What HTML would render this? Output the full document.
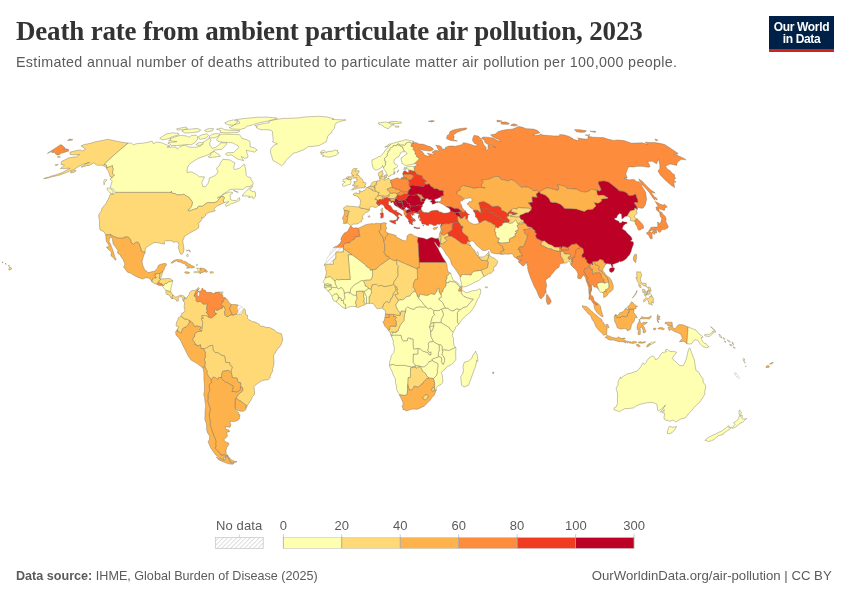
<!DOCTYPE html>
<html><head><meta charset="utf-8"><title>Death rate from ambient particulate air pollution, 2023</title>
<style>
html,body{margin:0;padding:0;background:#fff;}
body{width:850px;height:600px;overflow:hidden;position:relative;font-family:"Liberation Sans",sans-serif;}
#title{position:absolute;left:16px;top:15px;font-family:"Liberation Serif",serif;font-weight:bold;font-size:27px;color:#333;white-space:nowrap;line-height:32px;letter-spacing:-0.18px;}
#sub{position:absolute;left:16px;top:53px;font-size:14.3px;letter-spacing:0.335px;color:#5b5b5b;white-space:nowrap;line-height:18px;}
#logo{position:absolute;left:769px;top:16px;width:65px;height:36px;background:#002147;border-bottom:0;color:#fff;font-weight:bold;font-size:12px;line-height:12px;text-align:center;box-sizing:border-box;padding-top:5px;letter-spacing:-0.35px}
#logo:after{content:"";position:absolute;left:0;right:0;bottom:0;height:3px;background:#ce261e;}
#src{position:absolute;left:16px;top:568.2px;font-size:12.6px;color:#5b5b5b;white-space:nowrap;line-height:16px;}
#src b{font-weight:bold}
#lic{position:absolute;right:18.3px;top:568.2px;font-size:13.2px;color:#5b5b5b;white-space:nowrap;line-height:16px;}
svg{position:absolute;left:0;top:0}
svg text{font-family:"Liberation Sans",sans-serif;font-size:13px;fill:#5b5b5b}
</style></head><body>
<div id="title">Death rate from ambient particulate air pollution, 2023</div>
<div id="sub">Estimated annual number of deaths attributed to particulate matter air pollution per 100,000 people.</div>
<div id="logo">Our World<br>in Data</div>
<div id="src"><b>Data source:</b> IHME, Global Burden of Disease (2025)</div>
<div id="lic">OurWorldinData.org/air-pollution | CC BY</div>
<svg width="850" height="600" viewBox="0 0 850 600">
<defs><pattern id="hatch" width="3.2" height="3.2" patternUnits="userSpaceOnUse" patternTransform="rotate(45)"><rect width="3.2" height="3.2" fill="#fff"/><rect width="0.9" height="3.2" fill="#dadada"/></pattern></defs>
<g stroke="#6e6a55" stroke-width="0.4" stroke-linejoin="round">
<path fill="#ffffb2" d="M390.9,335.4L390.9,335.0L391.5,335.0L393.0,332.1L396.0,332.7L396.0,331.2L397.8,331.2L399.0,328.2L400.2,325.2L402.0,322.9L403.9,320.5L404.1,317.4L404.6,314.3L405.8,310.9L405.6,308.8L407.7,306.7L410.3,308.5L414.4,309.3L415.6,307.5L419.0,306.7L421.1,306.9L423.6,306.9L426.0,306.8L428.3,308.8L430.8,308.0L433.9,310.9L433.7,313.7L435.0,314.4L432.5,316.9L431.9,318.7L431.1,321.3L431.1,323.7L430.3,324.3L429.7,327.2L430.2,328.6L430.6,331.6L431.0,336.5L432.2,338.9L433.5,341.4L429.3,342.2L428.1,344.0L428.6,345.6L428.4,347.9L427.9,350.8L429.2,352.4L431.1,351.9L431.0,355.0L429.2,355.0L427.9,352.9L425.1,351.9L422.4,351.1L420.8,349.3L417.9,348.5L413.7,349.3L413.0,345.1L413.0,342.1L413.0,339.1L410.2,339.1L410.0,338.0L407.7,338.3L407.3,340.8L403.2,341.2L401.8,339.1L401.0,335.4L397.3,335.3L393.7,335.3L391.2,335.9Z"/>
<path fill="#fd8d3c" d="M359.2,233.1L360.2,236.2L356.2,236.9L354.8,237.3L354.7,239.2L352.0,240.3L350.0,242.7L345.9,243.2L343.5,245.0L343.5,247.7L340.1,247.7L336.8,247.7L333.4,247.7L334.1,247.0L337.2,246.1L338.1,244.9L340.2,243.2L341.5,240.6L340.9,239.9L341.2,237.7L342.5,235.6L344.2,233.1L346.2,232.2L347.8,231.1L349.4,228.1L350.0,226.5L351.3,226.2L353.0,228.1L354.3,227.9L356.4,227.8L358.0,228.3L358.9,229.4Z"/>
<path fill="url(#hatch)" stroke="#c0c0c0" d="M343.4,248.7L343.4,252.1L339.7,252.1L335.9,252.1L335.8,255.4L335.8,258.7L333.3,260.4L333.4,264.3L328.9,264.3L324.5,264.3L325.8,261.8L326.9,258.1L329.1,255.5L329.5,254.2L330.3,251.7L332.4,250.3L332.9,249.1L333.4,247.7L336.8,247.7L340.1,247.7L343.5,247.7Z"/>
<path fill="#feb24c" d="M380.8,226.8L380.8,229.4L379.3,230.9L379.2,231.7L381.0,235.1L382.7,236.2L383.8,240.9L384.6,244.3L384.7,246.9L384.9,250.8L383.8,251.6L385.2,253.9L385.8,255.7L388.7,256.5L389.8,258.6L386.4,260.9L383.1,263.2L379.8,265.5L377.9,267.4L376.0,269.2L372.4,270.0L370.3,270.4L369.8,268.5L366.9,267.0L365.4,264.9L362.0,262.3L358.7,259.8L355.3,257.2L352.0,254.7L349.1,252.7L346.3,250.7L343.4,248.7L343.5,247.7L343.5,245.0L345.9,243.2L350.0,242.7L352.0,240.3L354.7,239.2L354.8,237.3L356.2,236.9L360.2,236.2L359.2,233.1L358.9,229.4L358.0,228.3L361.4,226.8L363.0,226.0L365.6,224.7L369.4,223.9L372.5,223.6L373.8,224.0L376.4,223.2L379.5,223.6L381.4,223.5L380.9,224.9Z"/>
<path fill="#feb24c" d="M385.4,237.2L385.5,239.3L383.8,240.9L382.7,236.2L381.0,235.1L379.2,231.7L379.3,230.9L380.8,229.4L380.8,226.8L380.9,224.9L381.4,223.5L384.0,222.6L386.6,223.2L385.7,224.9L385.9,226.5L386.9,228.1L386.2,229.4L384.9,231.5L386.9,232.0L388.1,233.4L388.0,234.8Z"/>
<path fill="#feb24c" d="M418.3,243.7L418.6,248.4L418.8,253.1L419.1,257.8L419.3,262.5L419.4,265.1L419.5,267.8L417.2,267.8L417.2,269.1L413.1,267.2L409.0,265.4L404.8,263.6L400.7,261.8L396.6,259.9L394.8,261.0L392.3,259.8L389.8,258.6L388.7,256.5L385.8,255.7L385.2,253.9L383.8,251.6L384.9,250.8L384.7,246.9L384.6,244.3L383.8,240.9L385.5,239.3L385.4,237.2L388.0,234.8L388.1,233.4L391.7,234.1L396.0,235.4L396.7,237.5L399.4,238.5L402.6,240.3L405.3,240.9L407.0,239.3L406.9,236.2L408.9,234.3L410.4,233.9L412.5,234.5L413.8,235.9L415.6,236.2L418.2,237.3L417.5,241.1Z"/>
<path fill="#bd0026" d="M418.3,243.7L417.5,241.1L418.2,237.3L420.5,237.7L422.9,238.1L426.9,239.4L428.8,238.5L431.1,237.5L432.9,237.7L434.0,238.2L436.1,238.8L437.4,238.6L438.3,238.2L440.2,242.9L439.9,244.5L439.6,246.9L439.2,247.6L437.6,246.1L436.6,244.5L435.3,242.7L434.9,241.8L434.5,242.7L436.5,245.9L438.4,249.0L438.7,250.1L439.6,251.8L441.1,254.6L442.7,257.6L444.4,260.1L446.1,262.5L441.6,262.5L437.2,262.5L432.7,262.5L428.2,262.5L423.7,262.5L419.3,262.5L419.1,257.8L418.8,253.1L418.6,248.4Z"/>
<path fill="#feb24c" d="M446.9,276.4L447.2,277.9L446.0,280.6L446.4,282.6L446.2,284.5L445.5,286.8L443.3,289.2L443.0,291.5L441.5,292.3L441.1,295.2L439.0,291.8L438.7,288.1L437.0,289.4L437.1,291.0L434.7,294.4L433.6,294.5L430.5,293.6L429.4,294.7L427.1,295.6L423.7,295.1L420.0,294.1L419.2,297.1L417.2,296.5L416.8,293.9L415.3,291.5L414.4,288.7L412.7,286.8L413.6,285.3L413.1,284.0L415.1,279.5L417.6,279.0L417.4,274.0L417.2,269.1L417.2,267.8L419.5,267.8L419.4,265.1L419.3,262.5L423.7,262.5L428.2,262.5L432.7,262.5L437.2,262.5L441.6,262.5L446.1,262.5L447.0,265.1L447.3,268.8L447.6,270.1L448.5,272.2L450.6,273.0L450.1,273.2Z"/>
<path fill="#ffffb2" d="M456.3,283.2L454.5,282.1L451.9,281.7L449.4,281.1L448.8,282.9L446.4,282.6L446.0,280.6L447.2,277.9L446.9,276.4L450.1,273.2L450.6,273.0L451.4,275.6L452.8,279.3L453.5,280.6L454.9,281.1L457.0,282.1L458.9,284.7L460.7,286.0L461.6,286.8L459.9,287.3L458.1,285.3Z"/>
<path fill="#feb24c" d="M458.7,291.3L458.6,290.0L459.9,287.3L461.6,286.8L462.1,288.8L460.4,289.8L461.8,289.7L462.0,290.1L461.4,291.3Z"/>
<path fill="#ffffb2" d="M457.3,312.7L459.4,309.7L461.7,308.8L464.2,307.1L466.5,306.9L468.7,304.3L471.0,301.7L473.2,299.1L470.9,299.1L467.4,297.8L463.9,296.5L463.0,295.6L461.1,293.1L461.4,291.3L462.0,290.1L462.6,290.4L466.1,292.7L469.5,291.9L471.8,290.9L474.5,290.5L475.7,290.5L478.6,289.4L479.1,288.8L480.4,289.1L480.8,292.7L479.7,295.2L479.6,296.5L477.5,299.2L476.3,302.2L474.6,306.0L472.3,309.6L469.6,312.9L467.4,314.6L466.2,315.6L464.4,317.1L462.7,319.0L461.0,320.9L458.7,324.3L457.4,322.2L457.4,317.5Z"/>
<path fill="#ffffb2" d="M449.4,281.1L451.9,281.7L454.5,282.1L456.3,283.2L458.1,285.3L459.9,287.3L458.6,290.0L458.7,291.3L461.4,291.3L461.1,293.1L463.0,295.6L463.9,296.5L467.4,297.8L470.9,299.1L473.2,299.1L471.0,301.7L468.7,304.3L466.5,306.9L464.2,307.1L461.7,308.8L459.4,309.7L456.8,308.9L454.6,309.9L453.9,311.0L450.6,310.6L447.8,308.4L445.8,308.4L445.5,308.0L444.1,305.9L442.7,302.8L441.0,300.9L438.7,299.6L439.1,298.1L441.2,297.5L441.1,295.2L441.5,292.3L443.0,291.5L443.3,289.2L445.5,286.8L446.2,284.5L446.4,282.6L448.8,282.9Z"/>
<path fill="#ffffb2" d="M449.5,327.8L446.7,326.1L443.9,324.4L441.0,322.6L441.0,319.7L441.2,319.2L442.4,317.1L443.5,315.0L442.3,310.9L441.2,309.0L445.5,308.0L445.8,308.4L447.8,308.4L450.6,310.6L453.9,311.0L454.6,309.9L456.8,308.9L459.4,309.7L457.3,312.7L457.4,317.5L457.4,322.2L458.7,324.3L457.1,326.0L455.5,327.1L455.4,328.4L454.3,330.6L453.1,332.2L449.7,329.1Z"/>
<path fill="#ffffb2" d="M431.1,323.7L431.1,321.3L431.9,318.7L432.5,316.9L435.0,314.4L433.7,313.7L433.9,310.9L434.7,310.1L437.0,310.7L440.0,310.2L441.2,309.0L442.3,310.9L443.5,315.0L442.4,317.1L441.2,319.2L441.0,319.7L441.0,322.6L437.1,322.7L433.2,322.7Z"/>
<path fill="#ffffb2" d="M433.9,324.4L433.9,326.1L433.2,326.3L431.8,326.1L429.7,327.2L430.3,324.3L431.1,323.7L433.2,322.7Z"/>
<path fill="#ffffb2" d="M431.9,331.2L430.6,331.6L430.2,328.6L429.7,327.2L431.8,326.1L433.2,326.3L433.9,326.1L433.1,328.6Z"/>
<path fill="#ffffb2" d="M448.8,350.6L444.9,349.9L442.2,350.2L442.0,346.1L440.9,344.8L438.5,344.6L434.5,342.5L433.5,341.4L432.2,338.9L431.0,336.5L430.6,331.6L431.9,331.2L433.1,328.6L433.9,326.1L433.9,324.4L433.2,322.7L437.1,322.7L441.0,322.6L443.9,324.4L446.7,326.1L449.5,327.8L449.7,329.1L453.1,332.2L452.9,333.3L452.2,335.7L453.3,337.8L453.7,339.6L453.4,340.6L453.7,343.4L454.1,346.1L455.1,346.9L455.7,347.4L453.4,348.5L451.1,349.6Z"/>
<path fill="#ffffb2" d="M442.0,355.0L442.7,355.3L444.0,357.4L444.6,358.1L444.6,360.2L444.5,361.8L443.2,364.7L441.3,361.8L441.7,360.0L441.4,357.6L438.7,356.6L438.2,354.7L438.4,352.7L439.2,350.3L439.1,348.5L439.3,346.1L438.5,344.6L440.9,344.8L442.0,346.1L442.2,350.2L442.8,351.3Z"/>
<path fill="#ffffb2" d="M434.4,387.8L434.7,383.7L434.1,381.1L433.4,378.5L436.3,375.6L437.6,371.7L437.1,369.4L437.7,368.3L437.9,365.2L437.8,363.6L434.2,361.8L432.2,360.7L431.8,359.2L435.3,357.9L438.7,356.6L441.4,357.6L441.7,360.0L441.3,361.8L443.2,364.7L444.5,361.8L444.6,360.2L444.6,358.1L444.0,357.4L442.7,355.3L442.0,355.0L442.8,351.3L442.2,350.2L444.9,349.9L448.8,350.6L451.1,349.6L453.4,348.5L455.7,347.4L456.0,347.9L455.8,351.0L455.7,354.0L455.8,357.9L455.9,359.3L453.9,362.4L451.4,364.7L449.1,365.8L446.8,366.9L445.1,369.2L441.8,371.8L441.4,373.5L442.2,374.9L442.6,377.5L442.8,380.1L442.7,382.7L441.0,384.5L438.3,385.7L435.8,387.8L436.4,388.7L436.3,390.1L434.5,390.1Z"/>
<path fill="#ffffb2" d="M427.0,376.4L425.5,373.5L422.2,370.9L421.7,369.4L420.2,366.5L424.2,366.9L426.3,365.0L428.4,363.1L429.0,361.5L432.2,360.7L434.2,361.8L437.8,363.6L437.9,365.2L437.7,368.3L437.1,369.4L437.6,371.7L436.3,375.6L433.4,378.5L429.1,378.0Z"/>
<path fill="#ffffb2" d="M439.1,348.5L439.2,350.3L438.4,352.7L438.2,354.7L438.7,356.6L435.3,357.9L431.8,359.2L432.2,360.7L429.0,361.5L428.4,363.1L426.3,365.0L424.2,366.9L420.2,366.5L417.9,365.7L415.8,366.0L413.0,362.3L413.1,358.1L413.2,354.0L415.5,354.0L417.8,354.0L417.8,351.2L417.9,348.5L420.8,349.3L422.4,351.1L425.1,351.9L427.9,352.9L429.2,355.0L431.0,355.0L431.1,351.9L429.2,352.4L427.9,350.8L428.4,347.9L428.6,345.6L428.1,344.0L429.3,342.2L433.5,341.4L434.5,342.5L438.5,344.6L439.3,346.1Z"/>
<path fill="#fed976" d="M423.6,381.8L423.2,383.3L420.9,384.6L418.2,387.3L414.4,386.1L413.4,388.2L411.3,390.1L409.3,390.1L408.5,387.4L407.7,384.6L407.8,381.1L408.0,377.5L410.2,377.5L410.4,372.6L410.5,367.8L413.2,367.4L415.8,367.0L416.4,368.2L417.8,367.0L420.2,366.5L421.7,369.4L422.2,370.9L425.5,373.5L427.0,376.4L429.1,378.0L426.6,379.0Z"/>
<path fill="#ffffb2" d="M395.1,365.4L398.3,365.4L401.6,365.4L404.8,365.4L408.1,366.2L411.5,366.9L415.8,366.0L417.9,365.7L420.2,366.5L417.8,367.0L416.4,368.2L415.8,367.0L413.2,367.4L410.5,367.8L410.4,372.6L410.2,377.5L408.0,377.5L407.8,381.1L407.7,384.6L407.5,389.4L407.3,394.2L405.0,395.5L401.9,395.1L399.4,394.7L398.0,392.2L396.7,389.6L396.3,385.3L395.4,382.7L395.5,379.9L395.5,379.2L394.3,376.9L393.1,374.6L392.1,371.5L390.1,367.8L389.6,365.1L393.6,364.3Z"/>
<path fill="#feb24c" d="M405.0,395.5L407.3,394.2L407.5,389.4L407.7,384.6L408.5,387.4L409.3,390.1L411.3,390.1L413.4,388.2L414.4,386.1L418.2,387.3L420.9,384.6L423.2,383.3L423.6,381.8L426.6,379.0L429.1,378.0L433.4,378.5L434.1,381.1L434.7,383.7L434.4,387.8L432.9,387.3L431.6,390.0L432.7,391.3L434.5,390.1L436.3,390.1L435.2,392.7L434.2,395.2L431.6,398.0L430.1,400.3L427.6,402.8L424.1,406.2L421.4,407.4L418.8,408.7L417.0,409.3L413.9,409.1L411.1,409.3L408.7,410.2L406.3,411.0L404.9,409.9L403.0,409.7L403.0,408.5L402.0,406.2L403.0,404.4L403.1,402.8L401.7,399.7L400.2,396.4L399.4,394.7L401.9,395.1ZM427.1,394.7L425.3,395.0L422.7,397.3L423.4,399.1L425.1,399.9L427.3,398.4L428.2,396.5Z"/>
<path fill="#fed976" d="M432.7,391.3L431.6,390.0L432.9,387.3L434.4,387.8L434.5,390.1Z"/>
<path fill="#fed976" d="M427.1,394.7L428.2,396.5L427.3,398.4L425.1,399.9L423.4,399.1L422.7,397.3L425.3,395.0Z"/>
<path fill="#ffffb2" d="M404.8,365.4L401.6,365.4L398.3,365.4L395.1,365.4L393.6,364.3L389.6,365.1L389.7,361.3L390.5,359.7L391.4,355.3L393.5,352.9L393.8,352.3L394.5,348.7L394.4,347.9L393.1,343.0L393.6,340.9L392.9,340.5L392.3,338.0L391.2,335.9L393.7,335.3L397.3,335.3L401.0,335.4L401.8,339.1L403.2,341.2L407.3,340.8L407.7,338.3L410.0,338.0L410.2,339.1L413.0,339.1L413.0,342.1L413.0,345.1L413.7,349.3L417.9,348.5L417.8,351.2L417.8,354.0L415.5,354.0L413.2,354.0L413.1,358.1L413.0,362.3L415.8,366.0L411.5,366.9L408.1,366.2Z"/>
<path fill="#ffffb2" d="M393.0,332.1L391.5,335.0L390.9,335.0L390.4,333.1L391.7,331.6Z"/>
<path fill="#fed976" d="M389.4,327.4L390.2,326.3L391.6,326.0L392.8,326.1L396.0,326.3L396.0,325.0L396.3,321.6L394.9,319.5L396.3,317.6L395.3,316.3L393.5,316.7L393.5,314.4L396.7,315.0L399.9,315.6L400.2,314.3L401.1,310.9L403.4,310.9L405.8,310.9L404.6,314.3L404.1,317.4L403.9,320.5L402.0,322.9L400.2,325.2L399.0,328.2L397.8,331.2L396.0,331.2L396.0,332.7L393.0,332.1L391.7,331.6L390.4,333.1L390.1,332.5L388.4,330.3L390.0,329.4Z"/>
<path fill="#feb24c" d="M389.0,314.3L393.5,314.4L393.5,316.7L395.3,316.3L396.3,317.6L394.9,319.5L396.3,321.6L396.0,325.0L396.0,326.3L392.8,326.1L391.6,326.0L390.2,326.3L389.4,327.4L390.0,329.4L388.4,330.3L387.4,328.9L384.9,326.3L382.9,321.7L384.3,321.0L384.6,319.0L384.9,317.4L385.4,317.4L389.0,317.4Z"/>
<path fill="#feb24c" d="M389.0,317.4L385.4,317.4L384.9,317.4L385.3,315.2L385.4,313.9L389.0,314.3Z"/>
<path fill="#fed976" d="M384.2,303.3L386.0,301.7L387.2,301.5L388.8,302.8L390.0,301.7L390.9,298.1L392.2,297.5L393.2,293.6L395.4,290.5L396.3,290.0L395.1,287.6L395.1,285.8L396.9,287.1L397.4,288.9L397.2,291.3L398.4,293.9L394.8,294.8L396.7,297.6L398.5,300.4L396.0,304.6L396.4,306.9L397.6,309.6L399.9,312.4L400.2,314.3L399.9,315.6L396.7,315.0L393.5,314.4L389.0,314.3L385.4,313.9L385.6,312.3L384.8,309.8L383.4,309.4L382.4,308.0L383.3,304.9Z"/>
<path fill="#fed976" d="M369.0,296.5L369.9,296.2L371.1,293.4L371.5,292.1L371.1,289.4L372.0,284.7L374.2,284.5L376.5,284.2L378.6,286.0L381.1,285.3L384.6,286.6L387.4,286.0L390.3,285.5L393.7,284.5L395.1,285.8L395.1,287.6L396.3,290.0L395.4,290.5L393.2,293.6L392.2,297.5L390.9,298.1L390.0,301.7L388.8,302.8L387.2,301.5L386.0,301.7L384.2,303.3L383.3,304.9L382.4,308.0L379.3,308.5L377.2,308.8L375.5,306.9L374.3,305.0L373.2,303.5L370.6,303.3L369.0,303.4L369.1,300.4Z"/>
<path fill="#fed976" d="M384.6,286.6L381.1,285.3L378.6,286.0L376.5,284.2L374.2,284.5L372.0,284.7L371.1,289.4L368.3,288.7L367.6,286.8L365.1,286.0L365.0,284.5L363.3,280.8L365.8,280.0L368.3,279.9L370.8,279.8L372.5,275.9L372.5,272.9L372.4,270.0L376.0,269.2L377.9,267.4L379.8,265.5L383.1,263.2L386.4,260.9L389.8,258.6L392.3,259.8L394.8,261.0L396.6,259.9L396.7,264.4L398.8,266.7L397.9,267.8L398.0,271.8L398.1,275.9L396.0,279.0L393.9,282.1L393.7,284.5L390.3,285.5L387.4,286.0Z"/>
<path fill="#fed976" d="M398.1,275.9L398.0,271.8L397.9,267.8L398.8,266.7L396.7,264.4L396.6,259.9L400.7,261.8L404.8,263.6L409.0,265.4L413.1,267.2L417.2,269.1L417.4,274.0L417.6,279.0L415.1,279.5L413.1,284.0L413.6,285.3L412.7,286.8L414.4,288.7L415.3,291.5L412.6,292.3L409.7,296.2L406.5,296.5L404.2,299.1L401.9,300.1L400.5,299.9L398.5,300.4L396.7,297.6L394.8,294.8L398.4,293.9L397.2,291.3L397.4,288.9L396.9,287.1L395.1,285.8L393.7,284.5L393.9,282.1L396.0,279.0Z"/>
<path fill="#ffffb2" d="M401.9,300.1L404.2,299.1L406.5,296.5L409.7,296.2L412.6,292.3L415.3,291.5L416.8,293.9L417.2,296.5L419.2,297.1L418.5,298.3L420.8,300.4L423.8,304.3L426.0,306.8L423.6,306.9L421.1,306.9L419.0,306.7L415.6,307.5L414.4,309.3L410.3,308.5L407.7,306.7L405.6,308.8L405.8,310.9L403.4,310.9L401.1,310.9L400.2,314.3L399.9,312.4L397.6,309.6L396.4,306.9L396.0,304.6L398.5,300.4L400.5,299.9Z"/>
<path fill="#ffffb2" d="M423.7,295.1L427.1,295.6L429.4,294.7L430.5,293.6L433.6,294.5L434.7,294.4L437.1,291.0L437.0,289.4L438.7,288.1L439.0,291.8L441.1,295.2L441.2,297.5L439.1,298.1L438.7,299.6L441.0,300.9L442.7,302.8L444.1,305.9L445.5,308.0L441.2,309.0L440.0,310.2L437.0,310.7L434.7,310.1L433.9,310.9L430.8,308.0L428.3,308.8L426.0,306.8L423.8,304.3L420.8,300.4L418.5,298.3L419.2,297.1L420.0,294.1Z"/>
<path fill="#ffffb2" d="M366.9,267.0L369.8,268.5L370.3,270.4L372.4,270.0L372.5,272.9L372.5,275.9L370.8,279.8L368.3,279.9L365.8,280.0L363.3,280.8L361.2,280.7L358.2,282.9L355.5,284.2L353.4,285.8L352.7,286.8L350.6,289.2L350.2,292.8L349.0,293.4L348.6,292.1L344.4,293.4L343.8,291.1L343.5,290.2L341.5,287.6L338.3,288.9L336.7,287.6L336.7,286.3L335.3,284.2L334.8,281.4L336.6,279.3L338.4,279.8L341.6,279.5L345.9,279.5L350.2,279.5L349.8,274.6L349.3,269.6L348.9,264.6L348.5,259.7L348.1,254.7L352.0,254.7L355.3,257.2L358.7,259.8L362.0,262.3L365.4,264.9Z"/>
<path fill="#fed976" d="M333.3,260.4L335.8,258.7L335.8,255.4L335.9,252.1L339.7,252.1L343.4,252.1L343.4,248.7L346.3,250.7L349.1,252.7L352.0,254.7L348.1,254.7L348.5,259.7L348.9,264.6L349.3,269.6L349.8,274.6L350.2,279.5L345.9,279.5L341.6,279.5L338.4,279.8L336.6,279.3L334.8,281.4L333.1,279.5L330.2,276.6L327.7,277.3L325.2,277.9L325.8,275.3L326.4,272.7L326.0,270.4L325.4,269.3L325.9,267.2L325.6,265.9L324.2,265.7L324.5,264.3L328.9,264.3L333.4,264.3Z"/>
<path fill="#ffffb2" d="M333.1,279.5L334.8,281.4L335.3,284.2L336.7,286.3L336.7,287.6L334.6,287.7L331.4,287.0L328.0,286.9L324.5,287.7L324.3,287.3L324.3,285.9L327.3,285.3L331.2,285.5L331.2,284.6L327.6,284.0L324.5,284.4L324.6,283.4L322.8,281.6L323.7,280.8L325.0,278.7L325.2,277.9L327.7,277.3L330.2,276.6Z"/>
<path fill="#ffffb2" d="M331.2,284.6L331.2,285.5L327.3,285.3L324.3,285.9L324.8,284.7L324.5,284.5L327.6,284.0Z"/>
<path fill="#ffffb2" d="M331.4,287.0L331.4,289.4L329.1,290.0L328.4,291.4L327.2,290.5L326.1,289.2L325.2,288.1L324.5,287.7L328.0,286.9Z"/>
<path fill="#ffffb2" d="M331.4,289.4L331.4,287.0L334.6,287.7L336.7,287.6L338.3,288.9L341.5,287.6L343.5,290.2L343.8,291.1L344.4,293.4L344.4,295.4L345.2,298.1L343.3,300.3L341.2,300.7L341.0,298.2L339.2,297.8L338.2,298.3L338.4,296.2L337.1,293.9L334.1,294.3L332.2,296.4L331.3,295.2L330.0,293.4L329.1,292.1L328.4,291.4L329.1,290.0Z"/>
<path fill="#ffffb2" d="M337.1,293.9L338.4,296.2L338.2,298.3L339.2,297.8L336.3,301.9L334.0,300.7L333.1,300.1L332.3,297.8L332.2,296.4L334.1,294.3Z"/>
<path fill="#ffffb2" d="M341.0,298.2L341.2,300.7L343.3,300.3L343.7,303.5L345.8,304.7L345.4,308.6L341.9,306.9L339.7,304.6L337.9,303.5L336.3,301.9L339.2,297.8Z"/>
<path fill="#ffffb2" d="M343.7,303.5L343.3,300.3L345.2,298.1L344.4,295.4L344.4,293.4L348.6,292.1L349.0,293.4L350.2,292.8L352.9,294.9L356.5,295.4L357.1,298.6L355.4,302.2L356.5,305.4L355.7,306.7L353.6,306.3L350.6,306.5L348.7,307.1L347.5,307.6L345.9,308.5L345.4,308.6L345.8,304.7Z"/>
<path fill="#fed976" d="M355.4,302.2L357.1,298.6L356.5,295.4L356.3,291.3L359.4,291.1L362.5,291.0L363.6,293.1L363.7,297.0L364.4,298.3L364.1,300.7L364.0,302.0L365.6,304.1L365.0,304.9L362.3,305.5L359.9,306.7L358.0,307.6L355.7,306.7L356.5,305.4Z"/>
<path fill="#ffffb2" d="M364.1,300.7L364.4,298.3L363.7,297.0L363.6,293.1L362.5,291.0L364.9,291.3L364.6,292.8L366.0,295.7L366.5,296.5L366.5,300.1L366.6,303.7L365.6,304.1L364.0,302.0Z"/>
<path fill="#ffffb2" d="M366.0,295.7L364.6,292.8L364.9,291.3L366.0,290.1L368.3,288.7L371.1,289.4L371.5,292.1L371.1,293.4L369.9,296.2L369.0,296.5L369.1,300.4L369.0,303.4L368.3,303.4L366.6,303.7L366.5,300.1L366.5,296.5Z"/>
<path fill="#ffffb2" d="M365.0,284.5L365.1,286.0L367.6,286.8L368.3,288.7L366.0,290.1L364.9,291.3L362.5,291.0L359.4,291.1L356.3,291.3L356.5,295.4L352.9,294.9L350.2,292.8L350.6,289.2L352.7,286.8L353.4,285.8L355.5,284.2L358.2,282.9L361.2,280.7L363.3,280.8Z"/>
<path fill="#ffffb2" d="M131.3,143.2L132.4,144.0L133.6,144.7L137.7,143.4L139.3,143.4L141.0,143.4L144.5,142.9L148.1,142.3L152.1,141.0L152.6,142.3L153.3,143.6L156.8,142.1L159.2,142.4L161.7,142.8L163.2,143.4L164.8,144.1L166.3,144.7L168.2,145.4L170.0,146.1L167.1,147.2L170.0,147.1L173.0,147.0L176.0,147.0L176.6,148.1L177.3,149.2L179.9,146.7L184.6,145.0L186.2,145.7L187.7,146.4L189.4,147.2L191.6,147.2L193.9,147.2L196.2,147.2L198.3,146.6L200.5,146.1L203.1,142.3L206.4,140.3L209.6,138.2L210.3,139.2L211.0,140.2L209.7,143.0L210.1,145.6L211.2,147.0L212.3,148.3L215.6,147.4L219.4,144.5L220.7,142.8L223.6,142.8L226.5,142.8L226.7,144.1L224.5,146.7L222.0,149.2L219.4,149.5L216.7,149.8L214.1,150.1L213.2,151.9L208.6,154.7L204.9,156.0L201.2,157.2L197.8,158.6L194.6,160.6L191.4,162.6L188.5,165.3L187.3,168.1L187.1,170.3L187.0,172.5L190.9,171.8L193.1,172.8L195.4,173.7L197.4,175.2L199.4,176.7L202.0,176.8L204.5,176.9L203.1,179.6L201.8,182.4L202.3,184.5L202.9,186.6L205.4,186.9L207.9,183.6L209.3,179.9L209.2,178.2L212.4,176.8L215.4,175.4L218.1,171.8L217.3,170.0L216.5,168.1L219.8,165.3L220.0,163.4L222.9,159.3L226.2,159.6L229.4,159.8L230.8,160.6L232.2,161.5L233.6,162.2L235.0,162.9L234.3,165.3L233.5,167.7L234.4,169.6L237.1,168.9L239.8,168.1L242.4,165.5L244.4,164.3L244.9,166.2L245.4,168.1L246.0,172.0L246.2,175.2L247.5,176.7L249.2,177.3L250.9,177.9L251.1,179.9L253.1,182.4L253.0,184.4L249.8,186.4L246.1,186.9L242.8,189.4L240.2,189.3L237.5,189.2L234.9,189.1L232.5,189.3L230.0,189.4L227.2,191.7L223.1,194.0L220.3,196.3L217.2,198.0L219.9,197.3L224.1,194.0L227.0,192.9L229.9,191.9L233.0,192.9L229.9,195.0L230.4,197.5L230.4,199.6L232.2,200.3L234.2,200.5L236.2,200.6L239.4,197.5L239.9,200.1L236.9,201.9L234.0,202.8L231.2,203.7L228.7,205.1L226.1,206.5L225.3,204.4L229.1,201.6L226.5,202.1L224.3,202.6L223.6,201.9L223.2,200.9L224.4,197.4L223.6,196.6L222.0,196.8L221.8,196.4L219.6,198.3L218.7,199.2L218.2,200.3L216.5,202.0L215.4,202.0L215.0,202.6L211.6,202.6L208.3,202.6L206.9,203.0L204.3,204.7L202.7,206.2L199.1,206.2L197.6,207.1L197.3,208.3L194.7,209.1L192.1,209.9L189.1,211.2L187.9,210.4L188.2,209.7L189.8,208.8L190.4,207.8L191.6,206.3L192.5,201.9L191.1,200.6L191.1,199.8L189.7,198.8L189.4,197.8L186.5,196.0L183.7,194.2L181.2,195.0L180.3,194.7L177.2,194.9L174.8,193.5L171.7,193.2L171.5,191.4L171.0,192.4L167.0,192.4L163.0,192.4L159.0,192.4L155.1,192.4L151.1,192.4L147.1,192.4L143.1,192.4L139.2,192.4L135.2,192.4L131.2,192.4L127.2,192.4L123.3,192.4L119.3,192.4L115.3,192.4L114.9,191.7L113.4,189.1L111.8,188.4L110.1,187.6L111.2,184.1L112.2,181.1L110.3,179.1L111.0,178.5L112.6,176.9L114.4,175.0L112.3,173.5L112.7,171.3L113.1,169.1L112.4,166.9L112.6,165.7L110.0,166.6L106.8,167.9L106.7,166.5L106.5,165.0L103.7,164.5L108.4,160.1L113.2,155.7L118.0,151.4L123.0,147.2L128.1,143.1L129.7,143.1Z"/>
<path fill="#fed976" d="M171.5,191.4L171.7,193.2L174.8,193.5L177.2,194.9L180.3,194.7L181.2,195.0L183.7,194.2L186.5,196.0L189.4,197.8L189.7,198.8L191.1,199.8L191.1,200.6L192.5,201.9L191.6,206.3L190.4,207.8L189.8,208.8L188.2,209.7L187.9,210.4L189.1,211.2L192.1,209.9L194.7,209.1L197.3,208.3L197.6,207.1L199.1,206.2L202.7,206.2L204.3,204.7L206.9,203.0L208.3,202.6L211.6,202.6L215.0,202.6L215.4,202.0L216.5,202.0L218.2,200.3L218.7,199.2L219.6,198.3L221.8,196.4L222.0,196.8L223.6,196.6L224.4,197.4L223.2,200.9L223.6,201.9L224.3,202.6L220.6,204.4L216.9,206.0L214.8,208.1L213.9,209.3L215.3,210.9L212.2,211.7L209.7,212.2L205.9,214.0L205.3,216.1L202.7,218.3L201.8,217.1L201.9,219.5L199.3,222.8L198.2,223.4L198.8,224.4L198.7,227.9L196.1,229.6L192.6,231.5L189.3,233.3L187.4,234.6L184.6,236.4L182.7,240.9L183.1,243.3L183.6,245.7L184.0,250.0L183.2,252.7L181.9,254.2L180.8,254.3L179.6,252.1L179.2,250.3L178.2,247.4L179.0,244.5L177.6,241.9L176.3,241.5L173.6,242.4L172.8,241.2L169.9,240.7L167.8,240.9L165.4,240.7L164.3,241.6L164.4,243.2L164.7,244.1L162.7,244.0L160.2,243.2L158.1,242.8L154.8,242.4L152.4,243.5L149.5,245.3L146.1,247.6L145.1,250.0L145.2,252.2L142.9,252.0L141.1,251.0L140.8,248.2L139.3,245.0L138.9,243.3L138.0,242.2L135.6,242.3L133.7,244.3L131.0,242.7L130.7,239.9L128.3,237.0L124.5,237.0L124.2,238.2L121.0,238.2L117.8,238.2L114.2,236.6L110.7,235.1L111.0,234.5L108.3,234.8L105.6,235.0L105.5,234.6L104.0,231.7L102.1,230.9L100.1,230.0L99.7,227.2L99.4,224.4L99.6,221.3L99.1,219.2L98.8,217.1L98.8,214.5L101.4,210.9L102.0,208.2L104.0,205.7L106.1,203.2L108.2,199.4L109.3,196.7L110.4,194.0L113.5,194.5L115.3,192.4L119.3,192.4L123.3,192.4L127.2,192.4L131.2,192.4L135.2,192.4L139.2,192.4L143.1,192.4L147.1,192.4L151.1,192.4L155.1,192.4L159.0,192.4L163.0,192.4L167.0,192.4L171.0,192.4Z"/>
<path fill="#fed976" d="M106.5,165.0L106.7,166.5L106.8,167.9L110.0,166.6L112.6,165.7L112.4,166.9L113.1,169.1L112.7,171.3L112.3,173.5L114.4,175.0L112.6,176.9L111.1,178.4L112.0,177.4L110.1,176.7L109.4,174.2L108.7,171.8L107.9,170.7L107.0,169.6L106.3,167.4L104.2,166.2L102.1,165.3L99.8,165.3L97.5,165.3L95.4,164.1L93.6,162.9L89.7,165.3L86.8,165.7L83.9,166.5L81.0,167.2L85.3,164.1L89.6,162.4L86.6,163.2L83.7,164.1L78.3,166.7L74.1,169.4L70.3,170.9L66.4,172.5L63.2,173.7L60.0,175.0L57.4,175.6L54.9,176.2L52.3,176.8L49.7,177.4L47.2,178.2L43.6,178.8L45.4,177.7L48.6,177.2L50.2,176.4L55.1,175.1L58.2,174.0L62.9,172.3L67.8,169.4L70.1,168.3L67.3,168.3L63.5,168.6L60.3,168.5L63.2,166.5L64.3,165.3L62.6,164.8L60.8,164.3L61.3,162.9L61.6,161.5L66.3,159.1L68.2,157.9L70.8,157.5L73.5,157.0L76.2,157.0L79.7,154.4L76.2,154.9L73.8,154.8L71.3,154.7L70.0,154.2L70.0,152.2L75.2,150.8L77.9,150.3L80.6,149.9L81.5,150.4L82.5,151.0L85.4,149.2L84.5,148.4L83.7,147.6L82.3,146.8L80.9,146.0L83.7,144.7L87.7,143.9L91.6,143.0L95.3,141.7L99.4,141.0L103.6,140.2L107.7,139.3L109.6,139.7L111.5,140.1L113.4,140.5L115.6,141.0L117.8,141.4L120.1,141.9L122.4,142.3L124.3,142.6L126.2,142.8L128.1,143.1L123.0,147.2L118.0,151.4L113.2,155.7L108.4,160.1L103.7,164.5Z"/>
<path fill="#feb24c" d="M110.7,235.1L114.2,236.6L117.8,238.2L121.0,238.2L124.2,238.2L124.5,237.0L128.3,237.0L130.7,239.9L131.0,242.7L133.7,244.3L135.6,242.3L138.0,242.2L138.9,243.3L139.3,245.0L140.8,248.2L141.1,251.0L142.9,252.0L145.2,252.2L143.5,256.0L142.4,260.2L142.1,261.9L142.7,265.1L143.7,267.5L144.7,269.8L147.0,271.4L148.2,272.6L151.5,271.8L154.3,271.3L157.5,268.2L158.3,265.4L160.1,264.4L163.9,263.6L166.1,263.6L166.6,264.9L164.7,267.2L164.3,269.3L162.8,271.7L162.2,271.7L160.7,273.2L160.0,273.5L155.8,273.5L155.7,274.9L154.6,274.9L156.5,278.0L153.5,278.1L152.3,280.2L152.0,282.0L150.5,279.5L148.4,277.9L145.7,277.8L142.6,279.1L139.3,277.9L137.2,277.0L135.2,276.0L131.4,273.8L130.4,273.1L127.5,272.2L126.0,270.2L123.4,266.7L124.5,265.9L124.8,263.8L123.9,261.6L123.0,259.4L120.7,256.3L120.3,255.0L117.5,253.1L117.9,250.5L115.6,247.1L113.4,244.5L112.7,241.6L112.5,238.2L110.0,236.9L109.3,239.0L109.2,241.6L110.6,244.3L111.5,246.9L112.3,248.7L113.5,252.1L114.1,254.4L114.8,256.8L116.2,259.4L115.0,260.2L114.4,258.6L112.7,257.2L110.9,255.7L111.5,252.1L109.1,250.1L106.4,247.3L108.4,246.6L109.0,245.3L107.7,243.5L106.5,241.6L106.0,239.0L106.0,236.8L105.6,235.0L108.3,234.8L111.0,234.5Z"/>
<path fill="#fed976" d="M153.5,278.1L156.5,278.0L154.6,274.9L155.7,274.9L155.8,273.5L160.0,273.5L159.7,275.6L159.3,278.5L160.0,278.5L160.2,278.6L160.6,279.0L161.5,279.0L159.2,280.7L158.5,282.3L158.0,282.9L156.7,284.1L154.6,283.7L152.0,282.0L152.3,280.2Z"/>
<path fill="#fed976" d="M162.2,271.7L162.8,271.7L162.1,274.3L161.6,275.9L160.0,278.5L160.2,278.6L160.0,278.5L159.3,278.5L159.7,275.6L160.0,273.5L160.7,273.2Z"/>
<path fill="#fed976" d="M162.2,284.0L161.5,283.7L160.4,283.5L159.5,282.8L158.5,282.3L159.2,280.7L161.5,279.0L163.1,278.7L164.7,278.7L166.6,278.5L168.9,278.5L170.4,278.7L172.9,280.8L169.7,281.7L168.5,281.9L166.8,283.7L165.9,283.3L164.4,284.1L164.2,285.3L162.6,285.9L162.5,285.3L161.9,285.5L161.8,285.3Z"/>
<path fill="#fd8d3c" d="M158.5,282.3L159.5,282.8L160.4,283.5L161.5,283.7L162.2,284.0L161.8,285.3L161.7,285.5L159.5,285.5L157.3,284.7L156.7,284.1L158.0,282.9Z"/>
<path fill="#ffffb2" d="M164.4,284.1L165.9,283.3L166.8,283.7L168.5,281.9L169.7,281.7L172.9,280.8L172.1,283.4L171.5,286.0L170.9,288.7L170.7,291.4L170.2,292.0L168.5,291.1L166.4,290.7L166.1,291.0L164.5,288.7L162.6,286.3L162.6,285.9L164.2,285.3Z"/>
<path fill="#fed976" d="M168.5,291.1L170.2,292.0L170.8,291.5L171.5,293.1L172.2,293.9L173.1,295.0L172.2,296.2L172.4,297.5L172.1,299.0L171.2,298.1L170.4,297.5L170.5,296.5L168.4,294.9L167.8,293.9L167.3,294.9L166.0,293.6L165.9,291.5L166.2,291.1L166.4,290.7Z"/>
<path fill="#fed976" d="M172.4,297.5L172.2,296.2L173.1,295.0L174.1,296.0L175.4,297.0L177.1,296.8L179.2,295.6L180.2,294.9L181.5,295.3L183.5,295.8L185.0,297.4L183.5,301.2L182.5,299.1L183.1,298.1L181.2,296.8L180.1,296.6L179.3,297.5L177.9,298.5L178.7,300.5L176.6,301.2L176.4,299.9L174.9,299.1L173.5,298.3L172.1,299.0Z"/>
<path fill="#fed976" d="M244.1,308.5L245.2,309.8L245.8,314.5L247.5,315.3L247.4,318.4L248.6,319.7L251.1,320.7L252.1,321.8L254.4,321.8L256.7,322.9L259.0,323.9L260.6,326.5L262.7,326.1L265.9,327.3L266.6,327.6L269.4,327.4L271.7,328.6L274.0,329.7L276.8,332.3L279.2,333.1L281.6,333.8L281.7,335.1L282.7,338.5L282.5,341.0L280.8,345.2L279.2,347.4L277.8,348.5L276.8,350.0L274.6,354.0L273.5,355.3L273.7,358.7L274.1,361.8L273.6,366.2L272.6,368.3L272.8,371.2L271.5,373.0L270.1,376.4L270.3,377.5L268.1,379.8L265.4,379.9L262.3,380.6L258.6,382.7L255.3,385.3L254.0,386.6L254.3,389.4L254.6,392.1L254.6,394.4L252.5,396.5L251.5,399.1L249.9,401.8L248.2,404.0L247.2,406.1L246.1,408.2L245.6,406.5L246.3,405.4L244.8,404.6L243.7,403.3L241.5,401.8L240.1,400.7L239.1,400.5L237.8,399.3L236.9,398.6L235.3,398.9L236.2,397.7L238.2,394.7L240.2,392.7L242.7,390.9L242.7,388.6L242.0,387.0L240.4,386.9L240.7,385.3L240.7,382.8L238.2,382.4L237.2,378.9L237.1,378.2L236.0,378.1L232.2,377.7L231.7,374.1L231.1,372.6L231.5,369.6L232.1,367.5L231.4,365.8L229.8,364.9L229.6,362.6L225.6,362.4L225.2,359.4L224.5,356.0L220.9,355.0L218.5,353.0L215.2,352.5L212.9,350.0L212.9,348.2L212.6,345.3L209.8,345.9L206.7,347.8L205.0,348.7L203.2,348.6L200.8,348.7L200.6,344.8L197.1,346.1L196.7,344.8L194.6,344.6L195.1,343.2L192.5,339.6L193.0,338.0L194.4,337.0L194.8,333.6L197.1,331.8L199.3,331.4L201.6,331.0L202.1,326.9L202.7,322.9L202.2,321.3L201.2,318.6L203.3,318.3L202.8,317.3L201.6,317.3L201.7,315.6L205.5,315.4L206.2,315.4L208.1,317.0L208.6,316.8L209.8,318.0L211.7,317.6L212.8,317.0L215.0,315.0L216.6,313.7L215.2,313.5L214.1,310.1L215.0,309.3L217.8,310.5L218.1,309.4L222.3,308.1L222.8,306.4L224.1,306.3L224.6,308.2L225.5,309.8L224.9,311.1L224.5,312.9L225.1,315.2L226.1,316.3L227.8,316.6L230.6,314.9L232.5,314.9L233.6,315.2L233.9,314.6L236.9,313.9L238.0,314.4L239.9,314.0L240.8,314.3L241.6,313.3L242.1,311.9L243.3,309.9L243.7,309.0Z"/>
<path fill="#feb24c" d="M235.1,404.4L235.1,402.0L235.3,398.9L236.9,398.6L237.8,399.3L239.1,400.5L240.1,400.7L241.5,401.8L243.7,403.3L244.8,404.6L246.3,405.4L245.6,406.5L246.1,408.2L245.5,409.9L243.3,411.3L240.5,411.2L236.7,410.0L235.2,408.5L235.0,406.5Z"/>
<path fill="#feb24c" d="M220.9,455.1L218.7,451.9L214.9,448.3L215.9,446.3L215.6,443.7L215.9,441.2L215.2,438.6L213.9,436.1L212.8,432.8L211.7,429.6L210.3,425.7L210.2,421.8L209.7,418.6L209.1,415.3L209.6,411.9L210.5,409.3L209.3,406.2L208.5,403.6L207.6,401.0L208.0,398.4L207.9,394.2L209.8,390.5L209.3,387.7L209.0,384.8L211.4,382.7L211.3,379.6L213.1,376.9L215.6,377.7L217.7,379.4L218.4,377.5L221.0,377.5L221.4,378.1L223.5,380.1L225.5,382.2L227.8,382.7L231.2,384.8L233.5,386.1L232.7,389.6L232.0,391.3L234.4,391.6L236.7,391.8L238.0,391.4L240.3,389.7L240.4,386.9L242.0,387.0L242.7,388.6L242.7,390.9L240.2,392.7L238.2,394.7L236.2,397.7L235.3,398.9L235.1,402.0L235.1,404.4L235.0,406.5L235.2,408.5L235.7,410.4L238.6,412.5L238.8,414.6L240.1,414.8L239.2,419.2L237.0,420.7L234.5,421.6L232.1,421.4L229.8,421.3L230.7,424.4L230.7,426.0L230.0,427.3L227.6,426.9L225.1,426.5L226.0,429.6L228.8,429.9L229.6,431.7L226.8,432.2L226.8,433.0L227.4,436.3L225.7,438.0L224.0,439.7L224.5,441.2L227.0,442.5L228.7,443.0L228.8,444.4L227.8,446.0L226.7,447.6L226.6,448.3L226.0,450.6L226.2,454.1L228.3,456.0L228.0,456.1L224.7,455.1Z"/>
<path fill="#feb24c" d="M204.7,365.7L206.2,369.5L207.4,370.7L207.1,373.3L208.7,376.2L211.3,379.6L211.4,382.7L209.0,384.8L209.3,387.7L209.8,390.5L207.9,394.2L208.0,398.4L207.6,401.0L208.5,403.6L209.3,406.2L210.5,409.3L209.6,411.9L209.1,415.3L209.7,418.6L210.2,421.8L210.3,425.7L211.7,429.6L212.8,432.8L213.9,436.1L215.2,438.6L215.9,441.2L215.6,443.7L215.9,446.3L214.9,448.3L218.7,451.9L220.9,455.1L224.7,455.1L228.0,456.1L226.2,456.4L223.7,457.1L224.1,458.0L224.2,459.9L221.4,458.9L218.6,457.1L215.8,455.1L213.1,451.4L210.6,447.6L208.9,443.7L208.1,441.7L209.5,439.4L209.7,436.1L207.6,433.0L206.5,429.1L206.7,427.0L206.4,423.9L204.8,419.2L205.0,416.1L205.0,412.7L205.3,409.5L205.7,406.2L205.3,403.6L204.9,401.0L204.7,398.1L203.7,394.4L204.5,390.7L204.4,386.3L204.3,381.8L203.9,380.3L203.9,376.6L203.9,372.8L202.9,368.2L202.8,368.0Z"/>
<path fill="#fed976" d="M207.1,373.3L207.4,370.7L206.2,369.5L204.7,365.7L205.3,362.8L204.5,360.2L204.6,358.1L205.4,357.1L205.1,353.7L205.5,352.7L203.2,348.6L205.0,348.7L206.7,347.8L209.8,345.9L212.6,345.3L212.9,348.2L212.9,350.0L215.2,352.5L218.5,353.0L220.9,355.0L224.5,356.0L225.2,359.4L225.6,362.4L229.6,362.6L229.8,364.9L231.4,365.8L232.1,367.5L231.5,369.6L231.1,372.6L228.7,370.4L225.7,370.9L222.8,371.3L221.9,373.7L221.4,378.1L221.0,377.5L218.4,377.5L217.7,379.4L215.6,377.7L213.1,376.9L211.3,379.6L208.7,376.2Z"/>
<path fill="#feb24c" d="M222.8,371.3L225.7,370.9L228.7,370.4L231.1,372.6L231.7,374.1L232.2,377.7L236.0,378.1L237.1,378.2L237.2,378.9L238.2,382.4L240.7,382.8L240.7,385.3L240.4,386.9L240.3,389.7L238.0,391.4L236.7,391.8L234.4,391.6L232.0,391.3L232.7,389.6L233.5,386.1L231.2,384.8L227.8,382.7L225.5,382.2L223.5,380.1L221.4,378.1L221.9,373.7Z"/>
<path fill="#feb24c" d="M177.5,331.6L179.3,331.6L180.8,333.1L181.4,332.0L182.3,328.9L183.4,327.8L186.1,326.8L188.5,324.0L189.3,322.5L189.3,320.3L191.1,321.3L193.0,323.3L194.5,326.3L197.4,325.7L201.2,327.1L199.8,329.9L201.6,331.0L199.3,331.4L197.1,331.8L194.8,333.6L194.4,337.0L193.0,338.0L192.5,339.6L195.1,343.2L194.6,344.6L196.7,344.8L197.1,346.1L200.6,344.8L200.8,348.7L203.2,348.6L205.5,352.7L205.1,353.7L205.4,357.1L204.6,358.1L204.5,360.2L205.3,362.8L204.7,365.7L202.8,367.9L200.4,366.1L197.1,363.5L194.1,361.8L191.1,360.1L188.3,356.2L186.0,351.5L184.8,349.0L183.4,346.4L182.1,343.8L181.0,341.2L178.9,338.0L175.9,335.1L175.9,333.3L175.4,332.2L177.6,328.9L177.9,330.2Z"/>
<path fill="#fed976" d="M184.2,319.0L186.8,319.0L188.4,319.9L189.3,320.3L189.3,322.5L188.5,324.0L186.1,326.8L183.4,327.8L182.3,328.9L181.4,332.0L180.8,333.1L179.3,331.6L177.5,331.6L177.9,330.2L177.6,328.9L178.5,327.8L178.7,326.5L177.6,326.8L176.0,325.7L176.5,322.5L177.1,320.9L178.0,320.0L178.1,317.9L179.0,317.4L180.9,316.3L183.5,317.8Z"/>
<path fill="#fed976" d="M196.5,291.0L195.4,292.7L194.2,296.0L195.1,296.2L196.3,298.1L196.1,300.5L197.1,301.7L200.1,301.5L201.5,301.7L203.0,304.1L207.5,303.8L206.5,308.8L207.4,311.1L206.3,312.6L207.8,313.7L208.6,316.8L208.1,317.0L206.2,315.4L205.5,315.4L201.7,315.6L201.6,317.3L202.8,317.3L203.3,318.3L201.2,318.6L202.2,321.3L202.7,322.9L202.1,326.9L201.6,331.0L199.8,329.9L201.2,327.1L197.4,325.7L194.5,326.3L193.0,323.3L191.1,321.3L189.3,320.3L188.4,319.9L186.8,319.0L184.2,319.0L183.5,317.8L180.9,316.3L181.0,315.3L182.0,313.2L184.1,312.2L185.1,309.8L184.2,309.0L184.2,305.6L184.7,302.8L183.5,301.2L185.0,297.4L186.1,299.1L187.4,296.5L189.1,294.9L189.5,292.8L191.1,291.1L192.6,290.5L194.7,290.5L195.6,289.8L198.6,287.5L199.6,288.5L199.3,288.9L198.7,289.3L197.8,289.6Z"/>
<path fill="#fd8d3c" d="M223.2,300.4L223.9,301.3L222.0,302.5L221.4,304.5L222.8,306.4L222.3,308.1L218.1,309.4L217.8,310.5L215.0,309.3L214.1,310.1L215.2,313.5L216.6,313.7L215.0,315.0L212.8,317.0L211.7,317.6L209.8,318.0L208.6,316.8L207.8,313.7L206.3,312.6L207.4,311.1L206.5,308.8L207.5,303.8L203.0,304.1L201.5,301.7L200.1,301.5L197.1,301.7L196.1,300.5L196.3,298.1L195.1,296.2L194.2,296.0L195.4,292.7L196.5,291.0L197.8,289.6L198.7,289.3L197.8,289.7L198.5,291.4L199.9,291.3L201.6,290.2L201.9,288.4L202.8,288.1L202.8,289.7L205.0,290.1L206.1,291.5L206.7,292.6L209.2,292.3L211.1,292.3L213.3,293.6L215.4,292.8L215.2,292.2L218.2,292.1L220.7,292.1L219.1,292.8L219.7,293.9L221.5,294.1L222.9,295.4L223.0,297.5L224.9,297.7L225.2,298.5ZM197.2,293.9L197.4,295.4L198.2,296.4L199.4,295.4L199.7,293.9L199.4,292.3L198.5,291.5L197.8,292.3Z"/>
<path fill="#feb24c" d="M229.5,307.7L229.9,309.6L230.7,311.1L232.5,314.9L230.6,314.9L227.8,316.6L226.1,316.3L225.1,315.2L224.5,312.9L224.9,311.1L225.5,309.8L224.6,308.2L224.1,306.3L222.8,306.4L221.4,304.5L222.0,302.5L223.9,301.3L223.2,300.4L225.2,298.5L224.9,297.7L226.9,299.1L228.2,300.9L228.9,302.2L231.2,304.5L230.8,306.2Z"/>
<path fill="#feb24c" d="M237.5,309.3L238.3,310.9L237.8,312.7L236.9,313.9L233.9,314.6L233.6,315.2L232.5,314.9L230.7,311.1L229.9,309.6L229.5,307.7L230.8,306.2L231.2,304.5L232.7,304.5L235.7,304.6L238.4,305.0L237.3,306.9Z"/>
<path fill="url(#hatch)" stroke="#c0c0c0" d="M243.3,309.9L242.1,311.9L241.6,313.3L240.8,314.3L239.9,314.0L238.0,314.4L236.9,313.9L237.8,312.7L238.3,310.9L237.5,309.3L237.3,306.9L238.4,305.0L240.7,305.6L242.3,307.2L243.7,309.0Z"/>
<path fill="#fd8d3c" d="M388.7,178.3L388.9,178.6L388.1,178.4ZM401.3,178.3L401.3,177.5L402.4,177.5L403.2,176.7L403.7,176.8L405.2,177.3L406.6,177.5L407.0,179.0L403.9,178.9L400.8,178.8ZM415.3,166.0L416.3,165.4L418.5,165.5L417.4,164.9L415.4,163.7L413.8,163.9L415.6,162.4L417.5,160.4L419.3,158.4L416.1,156.4L416.7,155.4L415.0,154.0L415.2,151.9L412.8,149.2L413.9,147.4L411.0,146.3L411.3,144.4L412.9,143.1L414.1,142.8L415.9,142.4L418.0,143.5L418.8,143.9L421.4,144.1L424.0,144.5L425.9,145.2L427.9,146.0L430.2,146.5L433.0,148.5L433.5,149.5L431.9,150.6L429.5,151.1L427.7,150.8L425.9,150.6L424.1,150.3L422.3,150.0L420.4,149.4L418.5,148.8L419.7,149.9L421.7,151.0L423.8,153.5L424.1,154.7L427.5,156.1L430.4,156.1L428.9,154.9L427.2,153.2L429.5,153.8L431.3,154.0L432.9,154.4L434.1,154.4L432.6,152.6L432.0,152.3L433.9,151.1L435.6,150.2L439.0,151.0L439.0,150.1L437.6,148.5L437.1,146.7L435.7,145.3L437.7,145.5L439.6,145.7L441.9,147.2L441.6,148.8L444.9,149.2L445.4,147.4L447.2,146.7L449.0,146.1L450.7,146.1L452.4,146.1L454.2,146.3L453.6,146.7L455.6,146.2L457.6,145.7L459.6,145.2L461.9,144.7L463.3,142.8L465.4,142.9L468.2,143.7L471.0,144.5L473.1,145.3L475.2,146.1L476.5,145.4L477.8,144.7L474.5,143.4L472.5,140.6L472.7,139.1L473.2,137.0L474.1,135.3L476.2,135.7L478.4,136.1L482.0,140.2L482.8,142.3L483.6,144.5L486.5,147.9L485.1,149.9L486.7,149.7L488.3,149.4L488.0,146.7L488.1,145.0L491.2,145.8L494.3,146.7L495.7,147.6L492.6,145.4L490.1,144.8L487.6,144.3L484.8,142.3L484.5,140.2L481.3,138.2L483.3,137.0L486.3,137.2L489.3,137.4L491.5,137.8L493.6,138.2L497.6,140.4L500.4,141.7L498.7,139.5L495.8,138.2L493.0,137.0L490.6,134.9L493.0,134.4L495.3,134.0L496.6,132.9L497.9,131.8L499.7,131.2L501.4,130.6L503.1,130.2L504.8,129.9L506.5,129.6L508.3,129.4L510.2,129.3L512.1,129.2L513.7,128.6L515.3,128.0L516.8,127.2L518.3,126.4L520.4,126.8L522.6,127.2L526.1,128.8L528.4,128.8L530.8,128.9L533.2,129.0L537.6,130.6L539.9,132.8L537.7,133.4L535.5,134.0L534.2,134.8L532.8,135.5L535.3,135.4L537.7,135.3L539.5,134.8L541.3,134.2L543.0,135.1L545.7,135.3L548.4,135.5L551.2,135.7L553.9,135.9L556.5,135.9L559.2,135.9L559.7,134.4L561.9,134.7L564.2,134.9L567.0,135.8L569.8,136.7L573.0,138.7L572.2,138.8L575.0,139.7L577.9,140.6L579.0,139.1L577.7,138.1L580.8,138.5L583.9,138.9L585.8,139.1L587.7,139.3L587.9,138.3L588.0,137.4L588.0,136.2L590.4,136.7L592.9,137.2L595.5,137.3L598.0,137.4L600.6,137.5L603.2,137.6L607.8,139.1L610.6,139.7L613.4,140.4L615.7,140.2L618.0,139.9L620.9,140.3L623.9,140.6L627.9,141.9L631.8,143.2L633.8,143.1L635.7,143.0L638.7,142.9L641.7,142.8L644.8,143.6L648.0,144.5L646.2,143.0L645.3,142.1L647.7,142.4L650.1,142.6L652.6,142.6L655.1,142.6L658.0,143.1L660.8,143.6L664.8,144.6L671.5,148.9L678.2,153.4L677.0,154.4L674.8,154.1L673.5,154.4L676.2,155.1L678.9,156.1L684.0,158.4L685.9,159.9L683.5,159.6L681.1,159.3L680.0,160.2L678.8,161.0L677.9,162.0L677.0,163.1L676.7,165.4L673.8,164.7L670.9,164.1L669.4,164.3L667.8,165.3L665.3,165.5L667.2,168.9L670.2,170.8L672.0,173.2L674.4,174.6L674.7,177.2L675.8,178.4L673.6,179.9L676.0,182.1L673.7,182.5L674.2,185.1L674.6,187.6L670.7,184.9L667.9,182.4L665.1,179.9L662.7,177.4L660.3,175.0L659.1,172.9L657.9,170.8L658.9,169.8L659.9,168.9L659.9,166.8L659.8,164.8L659.5,163.1L659.1,161.5L658.6,159.3L657.7,161.2L657.1,162.5L656.5,163.8L652.5,161.2L650.1,161.3L647.7,161.5L648.2,162.4L649.2,164.5L650.0,166.7L648.7,167.2L645.3,166.8L641.9,166.3L638.4,166.2L636.0,166.6L633.6,166.9L631.0,166.9L628.4,166.9L627.7,168.7L627.0,170.6L626.4,172.2L625.8,173.9L626.5,175.9L627.2,177.9L623.9,178.2L626.6,179.0L629.3,179.9L631.6,179.6L633.9,179.4L637.1,181.9L639.0,181.6L639.5,182.6L641.6,184.4L641.7,186.1L643.8,189.3L645.7,192.4L645.9,194.6L646.2,196.8L646.6,198.8L646.2,200.7L645.9,202.6L645.4,204.7L644.3,206.4L643.1,208.1L641.2,208.3L638.6,207.5L637.1,208.8L637.4,209.6L636.9,209.2L636.7,206.8L633.9,202.9L635.3,202.0L637.9,202.4L637.5,199.3L636.5,197.5L635.6,194.2L633.9,195.0L632.2,195.7L629.0,195.7L626.4,192.8L623.2,191.4L619.0,190.9L617.8,189.4L613.2,185.8L608.7,182.3L606.2,181.6L603.8,181.0L601.4,181.3L599.0,181.6L598.3,183.1L599.9,186.4L601.3,189.7L599.5,191.2L596.7,190.3L594.0,189.8L591.3,189.3L589.8,190.7L587.9,191.4L586.0,192.1L583.5,191.8L581.0,191.6L578.5,190.3L576.0,189.1L572.9,188.9L569.9,188.6L566.8,188.4L565.5,186.6L561.7,185.6L557.8,184.6L558.9,188.5L558.0,190.5L554.4,189.5L550.9,188.5L548.7,188.2L546.6,187.9L544.6,189.0L542.5,190.2L541.1,191.0L539.6,191.9L538.8,192.2L536.5,190.4L533.9,190.9L531.4,189.1L528.8,187.4L525.9,187.0L522.9,186.6L522.1,187.9L518.5,184.8L515.0,181.6L511.2,179.4L509.6,180.3L507.9,181.1L505.5,180.1L503.2,179.8L500.9,179.4L499.2,176.7L497.3,176.5L495.3,176.4L492.2,177.8L489.1,179.1L486.6,179.5L484.0,179.8L481.4,180.1L483.4,182.4L481.2,184.9L482.5,187.4L485.3,187.9L482.3,187.6L479.3,187.4L476.6,187.9L473.9,188.4L471.2,187.4L468.0,186.7L464.8,186.0L463.3,185.6L461.5,186.9L459.7,188.3L460.6,190.0L458.9,190.9L457.2,191.7L456.9,193.8L458.5,195.5L461.2,196.4L463.0,198.0L463.9,199.3L462.6,200.7L461.6,200.6L460.6,201.6L460.0,201.9L460.2,203.4L461.3,204.4L461.8,206.0L462.3,207.8L464.4,210.3L465.1,210.8L464.0,212.5L462.7,212.2L460.6,210.6L458.7,209.1L456.9,208.4L454.7,208.8L451.6,207.3L447.5,206.5L446.3,206.8L445.6,206.3L444.0,205.0L441.1,203.4L440.0,202.9L438.5,202.4L438.7,201.6L440.0,201.7L441.2,200.0L441.1,198.3L442.2,197.0L440.8,197.2L440.7,196.0L443.7,195.4L443.1,192.9L443.3,190.9L441.1,190.5L438.9,190.2L437.7,188.9L433.9,188.9L433.2,187.4L431.1,186.8L429.3,184.0L427.4,184.3L425.5,184.6L424.2,182.0L426.6,181.4L424.4,179.6L422.2,177.9L422.0,175.9L419.3,175.3L416.5,174.6L415.3,171.8L414.3,171.2L414.3,169.4L414.0,167.7L414.7,166.5Z"/>
<path fill="#feb24c" d="M346.0,210.8L347.6,210.5L349.0,211.2L349.7,211.4L348.2,213.0L348.4,214.7L347.9,215.0L348.1,216.3L346.8,216.5L347.8,217.9L347.2,219.6L347.8,220.2L346.7,221.9L346.9,222.9L346.8,223.2L345.8,223.4L343.4,223.4L343.8,220.9L343.1,219.7L342.5,218.7L342.7,217.2L343.9,215.2L344.4,212.6L344.1,210.7L345.6,210.0Z"/>
<path fill="#fed976" d="M347.8,220.2L347.2,219.6L347.8,217.9L346.8,216.5L348.1,216.3L347.9,215.0L348.4,214.7L348.2,213.0L349.7,211.4L349.0,211.2L347.6,210.5L346.0,210.8L345.6,210.0L344.1,210.7L344.2,209.9L343.3,208.1L345.3,206.8L346.8,205.7L348.8,206.1L350.9,206.4L354.9,206.5L356.5,206.9L359.1,206.8L359.9,207.7L361.3,208.1L364.2,208.6L365.8,208.8L366.5,209.1L368.1,209.5L369.5,209.3L369.7,209.6L369.4,210.8L367.4,211.9L365.4,212.7L364.6,213.7L362.8,215.7L362.2,217.0L363.2,218.8L361.7,219.9L361.3,221.8L359.4,222.3L358.0,224.1L357.5,223.8L355.2,224.1L353.3,224.1L352.2,224.7L351.2,225.6L350.7,226.0L349.2,224.7L347.8,223.0L346.9,223.1L346.9,222.9L346.7,221.9Z"/>
<path fill="#fed976" d="M366.5,209.1L365.8,208.8L364.2,208.6L361.3,208.1L359.9,207.7L359.1,206.8L359.6,206.5L360.3,203.5L360.5,201.2L360.4,199.7L359.1,198.8L358.3,196.9L356.5,196.3L355.9,195.7L354.0,195.5L353.3,194.9L353.2,194.0L354.7,193.2L356.7,192.8L357.3,193.6L358.8,193.3L359.8,193.3L359.6,191.9L358.9,190.7L359.6,190.8L360.3,190.7L360.6,191.6L362.3,191.7L363.0,191.2L363.2,190.7L365.0,190.0L365.9,189.4L366.0,188.1L366.5,187.5L367.6,187.3L367.9,187.1L368.6,188.1L369.2,188.1L371.1,189.1L372.5,189.5L372.4,190.4L374.5,191.0L375.6,191.2L377.7,192.1L379.3,192.4L378.2,195.0L378.3,196.0L377.1,196.5L375.3,198.6L375.1,199.6L376.7,199.1L376.9,200.1L377.3,200.3L377.1,202.1L376.5,202.4L377.1,204.2L378.8,204.8L378.5,205.8L377.9,206.0L377.4,206.4L376.7,207.2L375.2,207.5L374.0,207.0L372.4,206.8L371.6,206.6L370.5,206.8L369.2,208.6L369.5,209.3L368.1,209.5Z"/>
<path fill="#fed976" d="M372.4,190.4L372.5,189.5L371.1,189.1L369.2,188.1L368.6,188.1L367.9,187.1L368.6,186.8L369.5,186.5L371.3,186.5L372.7,186.3L374.4,187.0L374.2,188.0L374.8,188.0L375.5,188.9L375.0,189.5L375.8,190.4L375.6,191.2L374.5,191.0Z"/>
<path fill="#fed976" d="M374.4,187.0L372.7,186.3L371.3,186.5L369.5,186.5L369.7,186.1L370.9,184.9L372.1,182.5L373.4,181.9L374.9,181.4L376.3,181.3L376.5,181.6L376.9,181.9L376.6,183.3L376.0,183.5L376.6,184.1L376.2,185.0L374.6,185.4L374.9,186.9L374.8,188.0L374.2,188.0Z"/>
<path fill="#fed976" d="M374.6,185.4L376.2,185.0L376.6,184.1L376.0,183.5L376.6,183.3L376.9,181.9L376.5,181.6L376.4,181.2L376.6,181.1L378.4,180.6L378.7,181.0L379.5,181.0L379.7,180.2L380.3,180.1L380.0,179.5L379.5,178.9L379.5,177.7L381.0,177.9L382.5,178.9L384.3,178.9L384.0,179.9L385.1,180.0L386.3,179.5L387.0,178.7L388.1,178.4L388.9,178.6L389.3,179.1L390.5,180.1L390.9,181.6L390.5,182.8L391.6,183.5L392.0,185.9L392.6,187.4L392.6,187.8L391.2,187.4L389.7,188.1L387.8,189.0L387.0,189.1L387.9,190.2L389.0,191.7L390.8,193.1L389.9,194.1L388.7,194.7L389.2,195.4L389.3,196.3L387.6,195.9L385.2,196.5L384.1,196.1L382.3,196.1L380.3,195.6L378.3,196.0L378.2,195.0L379.3,192.4L377.7,192.1L375.6,191.2L375.8,190.4L375.0,189.5L375.5,188.9L374.8,188.0L374.9,186.9Z"/>
<path fill="#fed976" d="M378.9,176.2L378.3,175.0L378.4,173.2L379.1,172.3L381.5,171.0L382.7,170.7L382.7,171.4L382.4,173.2L383.6,173.9L382.4,174.6L381.8,176.2L381.0,176.2L381.0,177.9L379.5,177.7Z"/>
<path fill="#fed976" d="M376.7,199.1L375.1,199.6L375.3,198.6L377.1,196.5L378.3,196.0L380.3,195.6L382.3,196.1L382.3,197.1L384.2,197.9L383.6,199.4L381.9,198.9L381.3,200.5L380.1,199.1L378.9,200.2L377.3,200.3L376.9,200.1Z"/>
<path fill="#fed976" d="M382.3,196.1L384.1,196.1L385.2,196.5L387.6,195.9L389.3,196.3L389.2,195.4L388.7,194.7L389.9,194.1L390.8,193.1L392.5,193.5L393.0,192.4L395.3,193.1L397.1,193.5L397.6,195.0L396.8,196.1L396.4,197.5L395.7,197.9L393.5,198.6L390.9,198.8L388.2,198.3L387.6,197.4L385.3,198.0L384.2,197.9L382.3,197.1Z"/>
<path fill="#f03b20" d="M377.1,204.2L376.5,202.4L377.1,202.1L377.3,200.3L378.9,200.2L380.1,199.1L381.3,200.5L381.9,198.9L383.6,199.4L384.2,197.9L385.3,198.0L387.6,197.4L388.2,198.3L390.9,198.8L390.4,199.6L390.8,200.6L391.0,201.0L390.4,200.9L388.3,201.6L388.7,202.8L388.3,204.1L389.0,205.1L391.0,206.3L392.6,209.2L394.4,210.4L396.9,210.6L396.3,211.4L398.4,212.6L400.8,213.9L402.1,215.2L401.9,216.1L401.1,215.4L399.3,214.4L398.1,215.3L397.9,216.2L399.4,217.9L398.2,218.9L397.3,220.9L396.4,220.5L396.7,219.1L397.4,218.2L397.0,217.2L396.3,215.7L395.3,215.6L394.1,213.9L393.0,213.4L391.5,212.5L389.4,211.8L387.6,210.1L386.1,209.3L384.8,207.9L384.3,206.4L383.3,205.1L381.4,204.2L380.5,204.4L379.5,205.5L378.5,205.8L378.8,204.8Z"/>
<path fill="#feb24c" d="M395.7,197.9L396.7,198.8L396.2,198.8L394.9,199.6L395.1,200.5L394.4,201.5L392.9,201.1L392.3,201.4L390.8,201.4L391.0,201.2L391.1,201.0L390.8,200.6L390.4,199.6L390.9,198.8L393.5,198.6Z"/>
<path fill="#bd0026" d="M392.9,201.1L394.4,201.5L395.1,200.5L394.9,199.6L396.2,198.8L396.7,198.8L398.4,200.2L399.1,200.5L401.7,200.3L402.0,202.1L402.9,202.1L402.2,202.9L400.0,202.4L397.7,202.0L395.4,202.1L395.4,203.2L396.7,205.0L398.3,206.5L399.7,207.8L401.5,209.0L401.6,209.3L400.7,208.7L399.6,208.0L399.2,207.7L397.1,206.5L395.9,205.9L394.4,205.0L393.6,202.6L392.6,201.8L391.5,203.0L390.9,202.4L390.6,201.5L390.8,201.4L392.3,201.4Z"/>
<path fill="#bd0026" d="M398.3,206.5L396.7,205.0L395.4,203.2L395.4,202.1L397.7,202.0L400.0,202.4L402.2,202.9L402.8,202.9L402.5,204.4L403.6,205.4L402.9,206.5L401.9,207.3L401.5,209.0L399.7,207.8Z"/>
<path fill="#bd0026" d="M402.9,206.5L405.4,208.2L404.9,209.0L403.9,209.0L403.6,210.8L403.0,210.1L401.7,209.3L401.5,209.0L401.9,207.3Z"/>
<path fill="#bd0026" d="M402.0,202.1L401.7,200.3L404.4,199.8L405.6,200.7L407.2,202.1L407.1,203.2L409.3,203.4L409.9,204.7L409.5,205.7L410.9,207.3L409.9,208.1L409.8,209.6L408.1,209.7L408.4,208.6L407.6,208.2L406.3,207.2L405.4,208.2L402.9,206.5L403.6,205.4L402.5,204.4L402.8,202.9L402.2,202.9L402.9,202.1Z"/>
<path fill="url(#hatch)" stroke="#c0c0c0" d="M407.6,208.2L408.4,208.6L408.1,209.7L407.1,209.9L406.2,210.8L406.0,209.9L404.9,209.0L405.4,208.2L406.3,207.2Z"/>
<path fill="#fd8d3c" d="M404.9,209.0L406.0,209.9L406.2,210.8L405.9,211.7L406.6,213.2L407.2,213.4L406.8,214.8L406.0,215.7L405.4,216.3L405.4,215.9L404.1,214.4L403.9,212.2L404.0,210.9L403.6,210.8L403.9,209.0Z"/>
<path fill="#bd0026" d="M405.9,211.7L406.2,210.8L407.1,209.9L408.1,209.7L409.8,209.6L411.3,211.0L411.3,212.1L409.3,212.6L407.2,213.4L406.6,213.2Z"/>
<path fill="#f03b20" d="M406.8,214.8L407.2,213.4L409.3,212.6L411.3,212.1L414.5,211.5L416.3,212.3L418.0,212.1L418.3,211.2L419.0,212.1L418.5,213.1L418.0,213.7L417.6,213.4L415.7,213.1L414.4,213.1L413.0,213.7L414.5,215.2L413.7,214.7L412.4,215.0L412.8,215.7L411.5,214.0L410.8,215.0L412.0,216.9L412.7,217.8L411.8,217.2L411.7,218.4L411.1,218.6L412.7,219.2L414.4,220.4L414.5,221.7L413.5,220.9L412.2,221.0L412.7,221.8L413.4,222.2L412.7,222.6L411.9,221.9L412.4,223.8L413.0,224.8L411.5,224.0L411.5,224.9L410.5,223.4L409.6,223.9L409.4,222.7L408.6,221.7L408.1,220.9L409.3,220.1L409.6,219.7L408.7,219.9L407.9,219.3L407.2,218.3L406.0,216.9L405.4,216.3L406.0,215.7Z"/>
<path fill="#bd0026" d="M409.8,209.6L409.9,208.1L410.9,207.3L409.5,205.7L409.9,204.7L410.6,205.7L412.8,206.0L416.0,206.1L418.9,204.8L422.3,205.9L422.2,206.8L421.2,207.3L421.3,208.6L420.5,209.1L421.0,209.3L421.8,210.4L419.6,210.3L418.3,211.2L418.0,212.1L416.3,212.3L414.5,211.5L411.3,212.1L411.3,211.0Z"/>
<path fill="#bd0026" d="M416.0,206.1L412.8,206.0L410.6,205.7L409.9,204.7L409.3,203.4L407.1,203.2L407.2,202.1L405.6,200.7L404.4,199.8L406.4,198.6L407.6,196.0L409.3,195.0L412.7,195.1L413.6,195.6L416.7,194.3L418.1,195.5L420.2,197.7L420.8,199.3L420.9,201.4L423.9,201.9L424.1,202.1L424.1,203.0L422.3,204.7L422.3,205.9L418.9,204.8Z"/>
<path fill="#fd8d3c" d="M420.2,197.7L418.1,195.5L416.7,194.3L418.4,193.8L420.0,194.5L421.9,195.1L422.3,196.4L424.1,198.0L424.5,199.1L422.1,198.9L420.9,201.4L420.8,199.3Z"/>
<path fill="#f03b20" d="M396.8,196.1L397.6,195.0L400.8,195.5L402.5,194.5L404.3,193.7L406.3,193.6L407.6,194.0L409.3,195.0L407.6,196.0L406.4,198.6L404.4,199.8L401.7,200.3L399.1,200.5L398.4,200.2L396.7,198.8L395.7,197.9L396.4,197.5Z"/>
<path fill="#fd8d3c" d="M397.5,192.8L399.3,192.4L400.7,191.2L401.9,190.9L402.7,191.9L403.3,191.9L406.2,191.4L408.2,192.2L407.6,194.0L406.3,193.6L404.3,193.7L402.5,194.5L400.8,195.5L397.6,195.0L397.1,193.5Z"/>
<path fill="#feb24c" d="M394.3,188.1L395.5,188.4L395.4,189.0L396.2,189.7L396.7,188.9L398.2,189.1L398.8,189.8L400.1,190.2L400.7,191.2L399.3,192.4L397.5,192.8L397.1,193.5L395.3,193.1L393.0,192.4L392.5,193.5L390.8,193.1L389.0,191.7L387.9,190.2L387.0,189.1L387.8,189.0L389.7,188.1L391.2,187.4L392.6,187.8L393.2,187.4Z"/>
<path fill="#fd8d3c" d="M392.0,185.9L391.6,183.5L390.5,182.8L390.9,181.6L390.5,180.1L393.0,179.4L395.4,178.4L396.7,178.0L398.3,177.9L398.9,178.9L400.4,179.0L400.8,178.8L403.9,178.9L407.0,179.0L408.5,180.0L409.7,183.1L408.5,184.1L409.3,184.6L409.5,186.1L410.9,188.4L409.9,188.9L408.4,190.9L408.2,192.2L406.2,191.4L403.3,191.9L402.7,191.9L401.9,190.9L400.7,191.2L400.1,190.2L398.8,189.8L398.2,189.1L396.7,188.9L396.2,189.7L395.4,189.0L395.5,188.4L394.3,188.1L393.2,187.4L392.6,187.8L392.6,187.4Z"/>
<path fill="#fd8d3c" d="M406.6,177.5L405.2,177.3L403.7,176.8L403.2,176.7L403.2,175.7L403.0,174.8L404.7,174.0L407.4,174.0L410.2,174.0L413.8,175.7L413.9,176.7L412.5,177.7L412.2,179.1L410.2,180.1L408.5,180.0L407.0,179.0Z"/>
<path fill="#f03b20" d="M404.7,174.0L403.0,174.8L402.7,173.7L403.5,171.5L405.3,170.7L406.6,171.8L407.5,172.5L408.4,172.4L408.8,171.8L408.6,170.4L410.3,170.0L411.7,170.4L414.3,171.2L415.3,171.8L416.5,174.6L413.8,175.7L410.2,174.0L407.4,174.0Z"/>
<path fill="#ffffb2" d="M410.3,170.0L408.6,170.4L408.6,169.2L406.7,168.6L406.5,167.8L406.2,167.2L407.4,166.8L408.6,166.6L410.5,166.2L412.8,166.6L414.7,166.5L414.0,167.7L414.3,169.4L414.3,171.2L411.7,170.4Z"/>
<path fill="#f03b20" d="M408.5,184.1L409.7,183.1L408.5,180.0L410.2,180.1L412.2,179.1L412.5,177.7L413.9,176.7L413.8,175.7L416.5,174.6L419.3,175.3L422.0,175.9L422.2,177.9L424.4,179.6L426.6,181.4L424.2,182.0L425.5,184.6L423.5,186.6L420.9,186.3L418.2,186.0L415.2,185.6L412.2,185.1L409.5,186.1L409.3,184.6Z"/>
<path fill="#bd0026" d="M418.2,186.0L420.9,186.3L423.5,186.6L425.5,184.6L427.4,184.3L429.3,184.0L431.1,186.8L433.2,187.4L433.9,188.9L437.7,188.9L438.9,190.2L441.1,190.5L443.3,190.9L443.1,192.9L443.7,195.4L440.7,196.0L440.8,197.2L439.5,197.4L438.1,198.2L435.4,199.2L434.3,199.7L435.9,201.9L438.1,201.6L438.0,202.5L436.0,202.5L435.2,203.2L433.6,203.9L432.8,204.2L432.0,203.7L431.7,202.1L429.9,201.7L431.9,200.3L431.8,199.8L430.4,199.8L428.0,199.3L428.1,198.4L427.4,198.6L425.8,198.8L425.3,199.8L425.1,200.5L424.2,201.5L424.2,202.1L423.9,201.9L420.9,201.4L422.1,198.9L424.5,199.1L424.1,198.0L422.3,196.4L421.9,195.1L420.0,194.5L418.4,193.8L416.7,194.3L413.6,195.6L412.7,195.1L409.3,195.0L407.6,194.0L408.2,192.2L408.4,190.9L409.9,188.9L410.9,188.4L409.5,186.1L412.2,185.1L415.2,185.6Z"/>
<path fill="#ffffb2" d="M411.3,144.4L411.7,143.4L409.2,142.2L407.6,142.6L406.1,143.0L405.8,144.1L404.9,145.4L402.7,145.1L400.5,145.2L398.4,143.9L397.2,144.4L396.6,145.8L393.3,145.6L393.2,146.7L390.3,148.1L389.6,150.6L388.1,151.0L388.1,152.8L386.9,154.4L387.7,154.8L387.4,155.8L384.6,158.2L384.8,161.2L386.3,162.0L385.2,162.9L385.8,165.0L384.4,166.2L383.4,167.7L383.0,167.2L382.5,165.5L382.3,166.7L381.4,167.7L380.3,168.0L379.3,169.0L377.8,169.7L376.0,170.1L375.1,169.8L374.0,169.0L373.2,167.8L372.5,166.7L372.3,164.3L371.8,162.6L371.9,161.5L372.0,160.0L373.8,159.3L376.6,157.9L378.8,156.5L380.2,156.5L382.2,154.7L382.5,153.8L384.1,152.4L384.7,151.2L385.5,149.7L387.4,148.3L388.2,146.7L390.5,145.0L391.2,143.6L394.2,143.0L396.7,142.1L398.3,141.7L400.1,141.3L401.8,140.9L403.4,140.4L405.0,139.8L408.1,139.9L409.6,140.6L411.3,140.8L414.1,141.4L412.2,142.2L412.8,142.9L414.1,142.8L412.9,143.1Z"/>
<path fill="#ffffb2" d="M385.8,165.0L385.2,162.9L386.3,162.0L384.8,161.2L384.6,158.2L387.4,155.8L387.7,154.8L386.9,154.4L388.1,152.8L388.1,151.0L389.6,150.6L390.3,148.1L393.2,146.7L393.3,145.6L396.6,145.8L397.2,144.4L399.2,145.4L401.0,146.2L402.9,147.0L403.0,148.5L404.4,151.2L404.8,151.7L402.9,151.7L401.5,152.3L400.4,152.8L400.1,154.2L399.0,156.5L396.5,157.6L395.1,159.1L394.1,159.6L394.0,161.2L394.3,163.6L396.6,164.5L397.7,165.7L396.7,167.7L396.2,167.9L394.7,168.4L394.0,168.6L394.2,170.7L394.0,171.9L394.0,173.4L392.6,174.6L390.9,175.0L390.1,175.2L390.3,176.1L389.3,176.4L388.1,176.5L387.6,175.9L387.1,174.8L386.5,174.2L387.1,173.4L385.9,172.3L385.2,170.8L384.2,169.5L383.5,167.8L384.4,166.2Z"/>
<path fill="#ffffb2" d="M403.0,148.5L402.9,147.0L401.0,146.2L399.2,145.4L397.2,144.4L398.4,143.9L400.5,145.2L402.7,145.1L404.9,145.4L405.8,144.1L406.1,143.0L407.6,142.6L409.2,142.2L411.7,143.4L411.3,144.4L411.0,146.3L413.9,147.4L412.8,149.2L415.2,151.9L415.0,154.0L416.7,155.4L416.1,156.4L419.3,158.4L417.5,160.4L415.6,162.4L413.8,163.9L412.2,164.2L410.5,164.5L408.7,164.9L406.9,165.3L405.2,165.7L403.6,164.3L401.9,163.4L401.9,162.5L401.8,161.5L401.3,159.8L401.1,157.9L403.8,156.2L405.9,154.2L407.3,153.5L405.5,151.8L404.8,151.7L404.4,151.2Z"/>
<path fill="#f03b20" d="M419.0,212.1L418.3,211.2L419.6,210.3L421.8,210.4L421.8,210.8L422.0,211.3L423.2,211.9L424.3,212.5L425.4,212.5L428.7,212.7L429.9,211.8L431.1,211.0L433.8,210.4L436.7,210.3L438.7,211.0L439.6,212.2L440.9,211.9L443.0,213.0L444.1,213.2L446.8,213.0L448.5,212.8L450.5,211.6L452.5,211.8L454.7,212.7L455.5,213.7L455.6,215.3L458.2,216.3L457.6,217.1L457.9,219.7L458.0,221.0L459.4,223.0L455.4,222.5L454.1,223.1L451.2,223.1L449.1,223.9L445.9,223.8L442.7,224.3L442.1,225.3L441.2,226.5L440.6,226.1L441.0,224.4L440.5,223.6L440.1,224.0L439.2,224.5L437.5,223.9L436.2,225.2L433.9,225.8L432.0,224.5L429.1,223.8L428.9,224.9L428.6,225.4L427.0,225.4L425.7,224.4L423.8,223.9L422.0,224.1L421.9,223.4L421.5,222.5L421.3,221.2L419.2,220.0L420.3,218.9L420.3,218.0L419.8,217.4L420.3,216.7L418.3,216.9L418.9,215.2L418.5,215.4L419.6,214.0L418.0,213.7L418.5,213.1Z"/>
<path fill="#bd0026" d="M450.5,211.6L450.6,211.3L450.4,210.0L448.6,207.8L446.9,207.0L446.3,206.8L447.5,206.5L451.6,207.3L454.7,208.8L456.9,208.4L458.7,209.1L460.6,210.6L460.2,211.4L461.4,212.2L457.8,212.2L454.7,212.7L452.5,211.8Z"/>
<path fill="#bd0026" d="M459.4,213.5L460.3,214.9L461.9,216.9L462.2,218.5L461.5,218.6L460.5,217.1L458.8,216.1L458.2,216.3L455.6,215.3L455.5,213.7L454.7,212.7L457.8,212.2Z"/>
<path fill="#f03b20" d="M458.2,216.3L458.8,216.1L460.5,217.1L461.5,218.6L459.9,218.2Z"/>
<path fill="#f03b20" d="M460.2,211.4L460.6,210.6L462.7,212.2L464.0,212.5L465.1,210.8L466.1,211.7L466.8,212.7L468.1,214.0L469.6,214.5L468.6,214.7L467.9,215.3L467.8,217.4L467.3,218.8L467.5,219.6L465.5,218.7L465.8,217.1L464.6,216.3L462.2,218.5L461.9,216.9L460.3,214.9L459.4,213.5L457.8,212.2L461.4,212.2Z"/>
<path fill="#fd8d3c" d="M442.1,225.3L442.7,224.3L445.9,223.8L449.1,223.9L451.2,223.1L454.1,223.1L452.3,224.7L452.3,227.3L452.2,230.1L450.0,231.5L447.7,232.8L445.7,234.2L443.7,235.6L441.2,234.5L441.5,234.1L440.9,233.1L441.3,232.8L441.5,232.2L442.7,230.7L442.1,229.6L441.2,229.5L440.9,228.8L440.4,227.3L440.6,226.1L441.2,226.5Z"/>
<path fill="#feb24c" d="M442.7,230.7L441.5,232.2L441.3,232.8L440.9,233.1L439.7,233.5L439.9,233.1L440.4,231.5L440.8,230.0L441.2,229.5L442.1,229.6Z"/>
<path fill="#fed976" d="M441.5,234.1L441.2,234.5L440.9,235.4L441.2,237.7L441.0,239.0L440.4,242.9L440.2,242.9L438.3,238.2L438.9,237.3L439.2,236.3L439.6,234.3L439.7,233.5L440.9,233.1Z"/>
<path fill="#fed976" d="M441.2,237.7L440.9,235.4L441.2,234.5L443.7,235.6L445.7,234.2L447.7,232.8L449.0,236.0L446.7,236.9L444.4,237.7L446.8,240.3L445.9,241.6L443.8,242.9L442.7,243.7L440.4,243.3L440.4,242.9L441.0,239.0Z"/>
<path fill="#f03b20" d="M452.3,227.3L452.3,224.7L454.1,223.1L455.4,222.5L459.4,223.0L461.3,226.1L463.2,226.5L462.8,228.1L462.1,229.6L462.1,231.3L463.8,233.5L466.0,235.2L468.2,236.9L468.1,239.0L469.0,240.5L470.4,241.8L469.0,241.6L468.4,241.4L467.9,241.6L466.2,244.0L465.9,244.0L462.1,243.7L458.8,241.2L455.5,238.8L451.7,236.5L449.0,236.0L447.7,232.8L450.0,231.5L452.2,230.1Z"/>
<path fill="#fed976" d="M468.4,241.4L469.0,241.6L468.8,243.3L469.3,243.3L470.5,245.4L468.9,245.6L468.2,244.3L466.2,244.0L467.9,241.6Z"/>
<path fill="#feb24c" d="M443.8,242.9L445.9,241.6L446.8,240.3L444.4,237.7L446.7,236.9L449.0,236.0L451.7,236.5L455.5,238.8L458.8,241.2L462.1,243.7L465.9,244.0L466.2,244.0L468.2,244.3L468.9,245.6L470.5,245.4L471.9,247.9L473.7,249.5L475.1,250.9L475.3,253.1L476.0,254.1L476.9,255.4L478.3,255.7L478.9,257.0L481.3,260.1L484.3,260.4L487.3,260.7L488.5,262.5L488.0,265.1L487.4,267.8L484.2,269.1L480.9,270.4L477.6,270.9L474.3,271.4L472.4,272.5L471.0,275.3L469.1,274.8L466.3,274.7L463.4,274.6L461.4,274.6L461.2,276.4L460.4,277.2L459.7,275.9L457.9,273.0L456.0,270.1L454.0,267.4L451.3,263.8L450.7,260.4L448.4,257.0L446.3,254.6L444.4,251.4L442.5,248.6L440.8,246.7L439.9,246.9L440.2,245.6L440.4,243.5L442.7,243.7Z"/>
<path fill="#ffffb2" d="M476.7,253.4L476.9,252.0L477.4,251.7L478.5,253.9L478.7,255.4L478.3,255.7L476.9,255.4Z"/>
<path fill="#fed976" d="M479.0,257.0L481.1,256.9L483.4,257.0L485.1,256.1L486.9,254.0L488.3,252.6L488.8,251.4L488.9,251.6L489.0,253.1L489.3,254.4L489.4,254.8L488.1,255.0L488.7,257.0L487.3,260.7L484.3,260.4L481.3,260.1Z"/>
<path fill="#fed976" d="M488.1,255.0L489.4,254.8L490.4,256.4L494.7,258.4L497.7,261.2L496.9,264.1L495.7,266.2L494.2,266.7L493.6,268.7L494.0,270.5L491.3,273.0L488.8,273.6L486.0,275.6L483.8,276.5L482.3,273.4L480.9,270.4L484.2,269.1L487.4,267.8L488.0,265.1L488.5,262.5L487.3,260.7L488.7,257.0Z"/>
<path fill="#ffffb2" d="M461.4,274.6L463.4,274.6L466.3,274.7L469.1,274.8L471.0,275.3L472.4,272.5L474.3,271.4L477.6,270.9L480.9,270.4L482.3,273.4L483.8,276.5L481.8,277.7L479.3,280.3L477.1,281.2L475.0,282.1L472.6,283.4L469.7,284.9L465.9,286.6L462.3,287.0L461.8,285.3L460.9,281.3L460.2,279.0L460.4,277.2L461.2,276.4Z"/>
<path fill="#feb24c" d="M468.1,239.0L468.2,236.9L466.0,235.2L463.8,233.5L462.1,231.3L462.1,229.6L462.8,228.1L463.2,226.5L461.3,226.1L459.4,223.0L458.0,221.0L457.9,219.7L457.6,217.1L458.2,216.3L459.9,218.2L461.5,218.6L462.2,218.5L464.6,216.3L465.8,217.1L465.5,218.7L467.5,219.6L469.2,222.1L472.1,223.6L473.8,224.2L476.5,224.1L477.2,223.8L479.3,223.6L478.9,222.5L480.8,222.3L483.4,220.5L485.7,220.1L488.6,221.8L490.4,222.1L493.3,224.3L494.9,224.3L495.6,226.9L494.9,230.4L495.1,232.0L496.1,232.5L495.5,233.8L496.9,237.7L499.1,238.0L499.3,239.4L497.7,242.0L500.2,245.0L502.6,246.2L503.0,248.7L504.1,249.0L504.1,250.5L501.2,251.4L501.0,254.2L498.8,253.9L495.4,253.7L492.3,253.0L491.2,252.5L490.0,249.3L488.5,249.1L486.9,250.1L485.6,250.6L482.4,250.3L480.2,248.3L478.8,247.3L475.8,244.5L473.9,241.5L471.2,240.6L470.4,241.8L469.0,240.5Z"/>
<path fill="#f03b20" d="M478.0,210.3L479.9,212.2L481.1,212.2L483.2,212.2L483.4,209.9L485.6,208.3L488.9,209.9L489.7,211.9L493.7,212.7L495.5,215.6L498.7,217.1L501.0,218.6L503.4,220.0L505.7,220.8L506.0,222.5L504.1,222.7L502.6,223.6L502.3,225.2L499.6,226.4L498.2,228.2L495.6,226.9L494.9,224.3L493.3,224.3L490.4,222.1L488.6,221.8L485.7,220.1L483.4,220.5L480.8,222.3L478.9,222.5L478.8,222.1L477.3,218.2L475.5,217.0L475.5,215.6L474.8,212.7L473.3,211.0L474.3,210.1Z"/>
<path fill="#f03b20" d="M483.5,201.2L486.6,202.8L489.7,204.4L492.2,206.5L495.1,206.3L498.1,206.0L501.1,207.8L501.7,210.4L502.8,210.6L506.4,212.6L507.0,213.5L508.5,211.9L510.5,210.4L511.9,209.7L511.1,211.7L514.0,212.2L517.6,213.4L516.0,214.4L513.6,214.9L512.5,214.8L511.0,213.2L509.6,213.5L508.5,215.0L509.4,215.8L506.5,216.9L509.5,220.2L508.9,222.8L506.0,222.5L505.7,220.8L503.4,220.0L501.0,218.6L498.7,217.1L495.5,215.6L493.7,212.7L489.7,211.9L488.9,209.9L485.6,208.3L483.4,209.9L483.2,212.2L481.1,212.2L479.9,207.4L478.6,202.6L481.0,201.9Z"/>
<path fill="#feb24c" d="M461.2,196.4L458.5,195.5L456.9,193.8L457.2,191.7L458.9,190.9L460.6,190.0L459.7,188.3L461.5,186.9L463.3,185.6L464.8,186.0L468.0,186.7L471.2,187.4L473.9,188.4L476.6,187.9L479.3,187.4L482.3,187.6L485.3,187.9L482.5,187.4L481.2,184.9L483.4,182.4L481.4,180.1L484.0,179.8L486.6,179.5L489.1,179.1L492.2,177.8L495.3,176.4L497.3,176.5L499.2,176.7L500.9,179.4L503.2,179.8L505.5,180.1L507.9,181.1L509.6,180.3L511.2,179.4L515.0,181.6L518.5,184.8L522.1,187.9L522.9,186.6L525.9,187.0L528.8,187.4L531.4,189.1L533.9,190.9L536.5,190.4L538.8,192.2L536.3,194.0L537.4,197.4L534.7,197.2L532.1,197.0L532.4,201.2L533.2,202.1L530.8,202.5L528.3,202.9L529.5,203.7L531.7,207.4L531.4,209.9L528.7,208.3L525.1,208.1L521.5,207.9L518.1,207.3L517.1,209.2L513.2,208.3L511.9,209.7L510.5,210.4L508.5,211.9L507.0,213.5L506.4,212.6L502.8,210.6L501.7,210.4L501.1,207.8L498.1,206.0L495.1,206.3L492.2,206.5L489.7,204.4L486.6,202.8L483.5,201.2L481.0,201.9L478.6,202.6L479.9,207.4L481.1,212.2L479.9,212.2L478.0,210.3L474.3,210.1L473.3,211.0L473.3,208.8L472.3,208.8L470.1,207.4L469.4,206.1L467.0,203.9L467.1,203.7L468.5,203.7L468.7,201.9L471.9,201.6L471.9,199.1L471.1,197.8L469.1,198.0L467.2,198.3L465.2,198.6L464.3,199.1L464.0,199.3L463.0,198.0Z"/>
<path fill="#fed976" d="M517.1,209.2L518.1,207.3L521.5,207.9L525.1,208.1L528.7,208.3L531.4,209.9L529.8,211.3L528.1,212.7L525.5,213.0L523.1,214.3L520.1,215.3L519.8,217.0L516.4,217.2L513.3,216.7L510.5,216.6L510.5,215.3L512.5,214.8L513.6,214.9L516.0,214.4L517.6,213.4L514.0,212.2L511.1,211.7L511.9,209.7L513.2,208.3Z"/>
<path fill="#fed976" d="M510.5,216.6L513.3,216.7L516.4,217.2L519.8,217.0L521.1,219.5L523.1,219.7L524.2,222.7L520.6,222.2L517.9,224.1L516.4,221.0L515.6,220.0L513.7,221.9L512.2,223.1L509.5,223.5L508.9,222.8L509.5,220.2L506.5,216.9L509.4,215.8L508.5,215.0L509.6,213.5L511.0,213.2L512.5,214.8L510.5,215.3Z"/>
<path fill="#ffffb2" d="M499.6,226.4L502.3,225.2L502.6,223.6L504.1,222.7L506.0,222.5L508.9,222.8L509.5,223.5L512.2,223.1L513.7,221.9L515.6,220.0L516.4,221.0L517.9,224.1L520.6,222.2L524.2,222.7L522.5,223.8L519.3,223.9L517.0,225.8L518.4,228.1L518.0,230.3L515.5,231.2L516.7,232.9L515.1,233.7L515.3,236.7L513.0,236.9L512.3,238.1L510.4,238.2L509.3,239.2L509.7,242.0L507.5,242.5L505.2,242.9L501.5,243.2L497.7,242.0L499.3,239.4L499.1,238.0L496.9,237.7L495.5,233.8L496.1,232.5L495.1,232.0L494.9,230.4L495.6,226.9L498.2,228.2Z"/>
<path fill="#feb24c" d="M504.1,250.5L504.1,249.0L503.0,248.7L502.6,246.2L500.2,245.0L497.7,242.0L501.5,243.2L505.2,242.9L507.5,242.5L509.7,242.0L509.3,239.2L510.4,238.2L512.3,238.1L513.0,236.9L515.3,236.7L515.1,233.7L516.7,232.9L515.5,231.2L518.0,230.3L518.4,228.1L517.0,225.8L519.3,223.9L522.5,223.8L524.2,222.7L526.0,224.0L527.7,226.4L531.7,227.3L529.9,228.7L526.2,229.5L523.8,229.5L524.3,231.2L524.9,233.3L525.8,234.3L528.4,235.6L527.0,236.7L527.2,238.8L525.4,241.8L524.8,244.3L523.0,247.0L519.7,246.9L518.1,249.5L519.9,249.7L519.8,252.3L521.0,252.9L522.5,255.9L519.9,256.2L517.4,256.5L516.2,258.1L514.4,257.3L513.2,255.2L512.2,253.7L507.9,254.2L505.2,254.0L502.6,254.4L501.0,254.2L501.2,251.4Z"/>
<path fill="#fd8d3c" d="M522.5,255.9L521.0,252.9L519.8,252.3L519.9,249.7L518.1,249.5L519.7,246.9L523.0,247.0L524.8,244.3L525.4,241.8L527.2,238.8L527.0,236.7L528.4,235.6L525.8,234.3L524.9,233.3L524.3,231.2L523.8,229.5L526.2,229.5L529.9,228.7L531.7,227.3L533.6,229.6L535.1,230.4L535.2,232.5L536.9,234.1L535.6,235.1L536.6,238.2L538.6,239.2L542.2,241.1L540.9,244.8L543.5,245.9L546.1,247.3L548.7,248.6L551.8,248.7L553.3,250.1L557.6,251.0L559.9,251.0L559.3,247.1L560.6,246.7L561.2,248.6L562.0,250.0L564.6,249.9L568.6,249.9L568.4,248.7L567.1,247.4L568.1,247.4L570.2,245.8L571.7,244.5L574.7,244.0L576.3,243.5L579.6,246.3L579.4,249.2L577.5,248.7L575.6,250.5L576.0,252.1L575.4,254.7L574.7,257.7L572.9,257.3L572.6,259.9L573.1,261.8L571.9,262.8L570.6,258.1L569.3,259.9L568.1,258.4L568.1,257.0L570.3,256.3L570.2,254.3L567.3,254.1L564.4,253.9L563.9,252.1L561.0,250.9L560.7,252.6L560.8,256.0L563.0,259.4L563.9,262.9L562.3,263.6L561.6,263.2L561.0,263.4L559.4,265.1L559.2,267.1L557.4,268.3L555.5,269.7L553.9,271.7L552.3,273.8L550.3,275.7L550.4,276.8L548.0,277.8L547.4,278.9L545.6,279.5L546.0,282.4L546.7,285.8L545.9,288.8L546.1,293.1L544.9,293.2L544.3,294.7L544.1,296.0L542.6,297.0L541.2,298.9L539.6,297.8L537.9,294.0L536.6,290.6L534.1,286.3L533.1,283.8L532.1,281.3L531.3,279.6L529.8,275.6L528.9,273.0L528.1,270.5L527.6,267.8L527.7,266.7L527.1,264.8L526.6,261.9L525.9,263.2L524.1,265.5L523.5,265.9L522.0,265.4L520.1,263.4L518.4,261.9L518.6,261.2L521.5,259.9L519.2,260.4L517.2,259.1L516.2,258.1L517.4,256.5L519.9,256.2Z"/>
<path fill="#fed976" d="M548.2,243.7L552.1,245.2L554.4,247.0L556.9,247.1L559.3,247.1L559.9,251.0L557.6,251.0L553.3,250.1L551.8,248.7L548.7,248.6L546.1,247.3L543.5,245.9L540.9,244.8L542.2,241.1L544.5,240.7Z"/>
<path fill="#fd8d3c" d="M564.2,246.6L567.1,247.4L568.4,248.7L568.6,249.9L564.6,249.9L562.0,250.0L561.2,248.6L562.3,246.3Z"/>
<path fill="#fed976" d="M560.8,256.0L560.7,252.6L561.0,250.9L563.9,252.1L564.4,253.9L567.3,254.1L570.2,254.3L570.3,256.3L568.1,257.0L568.1,258.4L569.3,259.9L570.6,258.1L571.9,262.8L571.3,264.4L571.7,265.8L570.6,264.0L570.0,261.8L568.5,261.0L567.7,261.8L566.8,262.9L565.0,263.2L563.9,262.9L563.0,259.4Z"/>
<path fill="#fd8d3c" d="M571.9,262.8L573.1,261.8L572.6,259.9L572.9,257.3L574.7,257.7L575.4,254.7L576.0,252.1L575.6,250.5L577.5,248.7L579.4,249.2L579.6,246.3L582.1,248.2L583.0,248.2L583.9,252.3L581.9,255.4L582.4,257.6L584.8,257.0L585.6,259.4L587.1,260.2L586.7,262.1L589.3,264.0L591.4,263.6L589.5,266.8L588.2,266.8L587.1,268.4L584.6,268.8L584.1,271.5L585.3,273.8L587.5,277.2L588.3,277.4L587.1,280.3L589.6,284.1L590.1,287.1L591.3,289.2L590.9,291.3L589.5,293.0L589.1,293.9L588.8,291.3L588.7,287.5L587.2,283.4L586.1,280.3L585.3,276.9L583.7,275.6L583.4,274.7L582.2,276.8L580.5,278.9L578.6,278.6L577.7,278.2L577.8,275.1L578.0,274.0L577.1,271.7L575.4,269.3L573.2,267.4L571.7,265.8L571.3,264.4Z"/>
<path fill="#fd8d3c" d="M590.9,291.3L591.3,289.2L590.1,287.1L589.6,284.1L587.1,280.3L588.3,277.4L587.5,277.2L585.3,273.8L584.1,271.5L584.6,268.8L587.1,268.4L588.2,266.8L589.5,266.8L590.6,267.4L590.8,269.1L592.4,268.9L592.5,273.0L592.9,274.3L594.9,272.5L597.0,273.0L598.9,272.1L601.2,274.3L601.7,277.2L603.8,279.3L604.0,282.3L603.3,282.5L600.6,282.5L598.1,282.9L597.0,284.5L597.6,287.0L598.8,289.6L597.3,288.1L596.5,287.3L594.9,287.0L593.9,287.0L593.7,286.2L593.0,284.7L591.7,285.0L591.8,287.2L591.6,289.2L590.6,292.6L591.0,296.0L592.4,295.7L593.4,297.8L594.3,301.2L596.0,302.0L597.9,303.7L597.3,305.0L595.7,305.2L595.6,303.7L594.5,303.2L593.3,303.2L593.0,302.9L591.5,300.7L590.3,299.0L588.9,299.6L588.9,298.6L589.3,294.0L589.1,293.9L589.5,293.0Z"/>
<path fill="#feb24c" d="M595.6,303.7L595.7,305.2L597.3,305.0L597.9,303.7L598.3,303.8L600.4,306.0L601.2,310.1L602.3,313.6L603.2,316.5L601.6,316.6L598.7,314.3L596.5,312.2L595.2,309.8L594.7,309.0L594.0,305.9L593.8,303.8L593.3,303.2L594.5,303.2Z"/>
<path fill="#feb24c" d="M592.9,264.8L592.1,262.0L593.3,261.5L595.3,263.6L595.8,265.0L598.1,265.4L599.7,266.7L598.6,268.5L598.6,269.6L601.8,271.2L601.9,272.2L605.4,275.6L605.8,276.6L607.9,277.9L607.4,278.6L608.6,280.8L608.6,281.6L607.0,282.6L605.1,282.5L605.0,283.6L603.3,282.5L604.0,282.3L603.8,279.3L601.7,277.2L601.2,274.3L598.9,272.1L597.0,273.0L594.9,272.5L592.9,274.3L592.5,273.0L592.4,268.9L590.8,269.1L590.6,267.4L589.5,266.8L591.4,263.6Z"/>
<path fill="#ffffb2" d="M597.0,284.5L598.1,282.9L600.6,282.5L603.3,282.5L605.0,283.6L605.1,282.5L607.0,282.6L608.6,281.6L609.0,284.7L609.1,287.7L606.8,289.4L605.5,289.7L606.5,291.8L604.0,291.4L602.6,292.8L602.0,292.4L600.4,292.3L599.4,291.0L598.8,289.6L597.6,287.0Z"/>
<path fill="#feb24c" d="M606.5,291.8L605.5,289.7L606.8,289.4L609.1,287.7L609.0,284.7L608.6,281.6L608.6,280.8L607.4,278.6L607.9,277.9L605.8,276.6L605.4,275.6L601.9,272.2L601.8,271.2L598.6,269.6L598.6,268.5L599.7,266.7L598.1,265.4L595.8,265.0L595.3,263.6L593.3,261.5L597.2,261.2L598.2,260.7L600.0,259.1L603.4,260.3L604.5,262.8L606.9,263.7L604.5,265.7L604.3,267.2L602.9,268.3L603.0,271.2L605.0,273.2L605.5,274.4L608.2,276.8L609.7,277.9L611.5,280.3L612.7,284.0L613.5,286.3L613.1,288.0L613.2,289.0L612.8,289.8L610.9,291.5L608.7,293.0L608.0,293.9L607.5,295.2L606.0,296.5L603.6,297.5L603.6,294.4L604.1,293.9L602.6,292.8L604.0,291.4Z"/>
<path fill="#bd0026" d="M603.4,260.3L600.0,259.1L598.2,260.7L597.2,261.2L593.3,261.5L592.1,262.0L592.9,264.8L591.4,263.6L589.3,264.0L586.7,262.1L587.1,260.2L585.6,259.4L584.8,257.0L582.4,257.6L581.9,255.4L583.9,252.3L583.0,248.2L582.1,248.2L579.6,246.3L576.3,243.5L574.7,244.0L571.7,244.5L570.2,245.8L568.1,247.4L567.1,247.4L564.2,246.6L562.3,246.3L561.2,248.6L560.6,246.7L559.3,247.1L556.9,247.1L554.4,247.0L552.1,245.2L548.2,243.7L544.5,240.7L542.2,241.1L538.6,239.2L536.6,238.2L535.6,235.1L536.9,234.1L535.2,232.5L535.1,230.4L533.6,229.6L531.7,227.3L527.7,226.4L526.0,224.0L524.2,222.7L523.1,219.7L521.1,219.5L519.8,217.0L520.1,215.3L523.1,214.3L525.5,213.0L528.1,212.7L529.8,211.3L531.4,209.9L531.7,207.4L529.5,203.7L528.3,202.9L530.8,202.5L533.2,202.1L532.4,201.2L532.1,197.0L534.7,197.2L537.4,197.4L536.3,194.0L538.8,192.2L539.6,191.9L540.7,193.5L543.1,194.3L545.6,195.2L549.1,198.6L550.5,202.1L553.3,202.4L556.1,202.6L558.6,203.6L561.0,204.6L564.8,208.4L568.6,208.6L572.5,208.7L576.4,209.1L580.3,210.3L584.2,211.4L585.9,210.5L587.6,209.6L590.1,209.4L592.6,209.2L594.7,207.0L596.0,206.0L594.1,202.5L598.1,203.3L599.8,202.2L601.6,201.1L601.2,199.3L603.3,198.8L605.5,198.6L607.8,198.3L607.9,197.8L603.4,195.2L600.9,195.3L598.4,195.4L597.6,195.2L597.0,192.9L596.7,190.3L599.5,191.2L601.3,189.7L599.9,186.4L598.3,183.1L599.0,181.6L601.4,181.3L603.8,181.0L606.2,181.6L608.7,182.3L613.2,185.8L617.8,189.4L619.0,190.9L623.2,191.4L626.4,192.8L629.0,195.7L632.2,195.7L633.9,195.0L635.6,194.2L636.5,197.5L637.5,199.3L637.9,202.4L635.3,202.0L633.9,202.9L636.7,206.8L636.9,209.2L634.7,207.9L634.4,209.9L632.3,210.4L630.2,211.0L628.4,214.0L627.4,215.8L627.2,216.1L624.9,216.6L622.8,218.6L621.9,218.8L621.8,216.9L621.5,214.5L621.6,214.0L619.0,213.4L618.9,214.0L617.2,215.8L616.7,217.8L614.4,218.2L615.0,219.7L618.2,221.0L619.0,221.4L619.2,222.8L621.2,223.0L622.3,221.3L624.0,221.9L625.7,222.1L627.0,222.3L626.9,223.6L625.2,224.1L623.4,225.8L622.3,228.6L622.7,229.2L625.3,230.7L627.8,233.8L630.8,236.5L631.3,237.2L632.2,239.4L630.3,240.9L633.3,241.9L633.5,244.0L633.2,245.0L632.4,246.9L631.6,249.5L630.9,252.1L629.8,254.2L629.6,255.1L628.2,256.1L626.8,258.1L625.8,259.0L623.3,260.7L620.5,261.8L619.0,261.0L619.1,262.1L615.8,263.2L613.7,264.0L612.5,264.6L613.1,266.8L612.2,267.1L611.1,265.1L610.7,263.8L609.4,264.0L607.8,263.6L606.9,263.7L604.5,262.8Z"/>
<path fill="#feb24c" d="M546.6,187.9L548.7,188.2L550.9,188.5L554.4,189.5L558.0,190.5L558.9,188.5L557.8,184.6L561.7,185.6L565.5,186.6L566.8,188.4L569.9,188.6L572.9,188.9L576.0,189.1L578.5,190.3L581.0,191.6L583.5,191.8L586.0,192.1L587.9,191.4L589.8,190.7L591.3,189.3L594.0,189.8L596.7,190.3L597.0,192.9L597.6,195.2L598.4,195.4L600.9,195.3L603.4,195.2L607.9,197.8L607.8,198.3L605.5,198.6L603.3,198.8L601.2,199.3L601.6,201.1L599.8,202.2L598.1,203.3L594.1,202.5L596.0,206.0L594.7,207.0L592.6,209.2L590.1,209.4L587.6,209.6L585.9,210.5L584.2,211.4L580.3,210.3L576.4,209.1L572.5,208.7L568.6,208.6L564.8,208.4L561.0,204.6L558.6,203.6L556.1,202.6L553.3,202.4L550.5,202.1L549.1,198.6L545.6,195.2L543.1,194.3L540.7,193.5L539.6,191.9L541.1,191.0L542.5,190.2L544.6,189.0Z"/>
<path fill="#fed976" d="M628.4,214.0L630.2,211.0L632.3,210.4L634.4,209.9L634.7,207.9L636.9,209.2L637.4,209.6L636.2,210.9L637.3,213.2L636.6,213.7L634.4,216.1L634.9,217.6L637.6,219.2L635.3,220.0L634.9,221.4L632.8,221.0L630.4,220.5L630.7,218.9L629.7,216.9L627.5,215.9L627.4,215.8Z"/>
<path fill="#fd8d3c" d="M635.3,220.0L637.6,219.2L638.6,220.2L640.0,221.4L641.9,223.4L643.4,225.8L643.7,227.3L643.5,228.3L641.4,229.0L640.9,229.4L638.7,230.3L637.9,229.1L637.2,227.0L636.9,226.0L635.2,224.0L635.3,222.2L634.9,221.4Z"/>
<path fill="#ffffb2" d="M350.5,179.9L350.6,180.6L350.9,181.5L351.0,182.5L350.6,183.4L350.3,184.5L349.2,184.6L347.3,185.0L346.5,185.4L345.9,185.9L343.4,186.3L342.6,185.9L342.3,185.1L342.2,184.6L343.3,184.1L343.2,183.9L343.3,183.5L344.3,182.5L345.3,182.0L342.9,181.4L343.0,180.0L343.4,179.1L345.0,179.1L346.1,179.1L347.0,178.4L345.8,178.2L346.8,177.0L348.0,176.7L348.6,176.5L349.2,176.8L349.1,177.3L348.3,178.0L347.0,178.7L348.1,179.5L349.2,178.9L349.9,179.8L350.7,179.6Z"/>
<path fill="#fed976" d="M349.2,176.8L349.5,176.9L350.3,176.8L351.0,176.9L351.6,177.8L351.8,178.3L352.3,178.8L351.6,179.4L350.7,179.6L349.9,179.8L349.2,178.9L348.1,179.5L347.0,178.7L348.3,178.0L349.1,177.3Z"/>
<path fill="#feb24c" d="M200.4,268.0L202.5,268.3L204.3,268.7L205.8,269.6L204.8,270.1L206.8,270.5L207.5,271.4L206.8,272.5L206.1,271.9L204.0,271.8L202.5,272.5L201.2,272.5L200.3,274.0L199.6,272.9L199.8,272.1L199.2,271.4L200.0,270.1L200.1,268.5L200.2,268.1Z"/>
<path fill="#ffffb2" d="M200.1,268.5L200.0,270.1L199.2,271.4L199.8,272.1L199.6,272.9L197.9,272.5L195.0,272.9L193.6,272.1L194.5,271.3L196.9,271.8L198.4,271.5L197.8,270.1L197.9,269.2L196.4,268.2L199.1,268.4L200.2,268.1Z"/>
<path fill="#feb24c" d="M634.0,311.1L633.8,312.6L635.6,315.0L637.4,317.5L634.8,317.9L634.1,321.6L632.3,323.4L631.3,325.2L631.0,327.6L630.2,329.7L627.1,330.8L626.8,329.0L624.3,328.6L621.1,328.9L620.7,329.3L617.2,327.7L616.4,324.8L614.5,321.3L614.6,320.1L614.2,317.6L614.3,316.1L615.7,314.6L615.7,316.3L617.7,317.6L620.7,317.4L621.7,316.2L625.1,316.7L627.2,316.1L628.0,312.4L629.2,312.2L629.3,309.2L631.6,309.1L633.9,309.1Z"/>
<path fill="#feb24c" d="M629.2,312.2L628.0,312.4L627.2,316.1L625.1,316.7L621.7,316.2L620.7,317.4L617.7,317.6L615.7,316.3L615.7,314.6L617.3,315.6L619.3,313.7L619.5,312.9L623.4,311.6L625.5,308.5L626.0,308.2L627.0,309.6L628.7,308.8L628.1,306.6L630.1,304.3L631.5,301.7L632.8,302.5L634.8,304.7L637.6,306.7L635.4,306.9L636.3,308.4L634.6,308.9L633.9,309.1L631.6,309.1L629.3,309.2Z"/>
<path fill="#ffffb2" d="M628.7,308.8L627.0,309.6L626.0,308.2L627.8,307.1L628.1,306.6Z"/>
<path fill="#feb24c" d="M672.2,323.9L672.6,326.5L673.6,328.6L675.2,328.8L677.4,325.7L679.3,324.6L682.9,324.8L685.1,325.7L687.3,326.7L688.0,326.9L687.8,331.1L687.5,335.3L687.2,339.5L686.9,343.8L685.5,342.2L683.0,341.2L679.4,341.9L681.7,339.1L682.5,338.3L680.9,334.5L678.0,332.8L674.4,331.6L671.1,329.5L669.2,330.6L667.9,327.6L670.7,326.5L671.8,326.0L670.1,325.7L668.0,325.9L667.1,324.2L667.3,323.8L664.9,323.5L665.5,322.2L668.8,322.2L672.1,322.2Z"/>
<path fill="#ffffb2" d="M688.0,326.9L688.7,327.1L691.1,328.2L694.0,329.3L696.0,330.1L698.7,333.6L700.9,335.1L703.2,337.2L701.2,337.6L701.7,339.9L703.5,342.5L704.2,343.2L706.0,343.5L707.2,345.3L709.2,346.8L708.2,347.0L707.1,347.8L704.9,347.2L702.7,346.5L700.9,344.8L699.6,343.2L698.1,340.8L696.2,340.0L694.6,339.9L693.0,341.8L691.9,343.6L689.6,344.0L686.9,343.8L687.2,339.5L687.5,335.3L687.8,331.1Z"/>
<path fill="#feb24c" d="M648.6,344.0L650.0,343.4L650.2,344.8L648.5,346.5L646.5,347.0L647.7,344.6Z"/>
<path fill="#ffffb2" d="M650.1,343.3L651.5,342.3L653.6,342.1L655.5,341.9L653.6,343.4L651.2,344.3L650.6,344.4L650.2,344.8Z"/>
<path fill="#ffffb2" d="M691.6,352.7L693.2,357.1L694.5,360.5L694.9,364.1L695.5,367.2L695.9,370.3L698.8,372.2L700.2,375.2L702.8,378.5L703.3,382.3L705.1,384.8L705.8,386.1L705.3,389.2L704.7,391.6L704.8,393.5L704.5,394.8L701.7,399.1L699.9,402.1L695.7,405.9L693.4,408.4L690.7,411.7L688.1,414.0L686.1,416.9L685.5,417.9L683.1,418.5L680.7,419.0L675.5,422.1L674.3,420.8L673.0,420.0L669.7,421.4L668.2,420.3L666.2,420.3L664.2,419.2L664.0,417.0L664.8,414.0L664.2,412.9L662.4,413.0L664.2,411.2L664.2,409.5L662.3,411.7L660.2,412.2L663.0,409.1L665.3,404.9L664.5,406.2L662.8,408.0L658.7,410.8L657.5,410.1L657.2,405.7L656.7,404.0L654.3,403.1L651.9,402.3L649.3,402.5L646.7,402.8L643.2,403.6L639.7,404.4L635.8,406.1L633.8,407.8L631.5,408.1L629.2,408.5L624.9,408.7L622.1,410.1L619.2,411.6L616.6,410.6L613.9,409.7L614.4,407.6L616.1,407.0L617.5,403.6L617.4,399.1L617.6,395.2L617.3,392.4L616.1,388.3L618.0,385.0L618.0,382.2L619.2,379.3L620.7,376.9L620.9,378.5L622.9,376.6L627.0,373.9L631.4,373.0L634.3,372.0L637.3,370.9L640.7,367.0L643.0,362.8L644.2,364.4L646.2,362.6L647.0,360.5L648.9,358.1L651.2,356.6L653.2,355.9L655.1,358.1L655.3,359.7L657.5,358.9L659.0,357.2L660.9,354.0L662.6,352.5L666.5,351.7L665.3,349.8L667.0,349.1L668.9,350.8L670.4,351.5L673.4,351.3L676.6,352.3L673.9,355.8L672.2,358.5L675.4,361.5L677.3,363.4L679.9,365.6L683.3,365.7L685.3,361.8L686.3,358.9L687.0,356.0L687.7,353.0L688.1,351.1L688.9,348.7L689.9,347.9L690.7,350.3Z"/>
<path fill="#ffffb2" d="M669.4,426.3L672.6,427.3L676.6,426.6L674.8,429.6L672.3,432.5L669.3,433.7L667.4,433.5L667.5,431.2L668.0,430.1L668.6,427.5Z"/>
<path fill="#ffffb2" d="M739.4,409.9L740.7,411.9L741.5,412.2L741.0,414.0L740.2,416.4L742.1,415.3L742.3,416.4L741.8,418.2L743.5,419.2L746.7,418.5L743.7,421.1L742.6,422.4L739.9,423.1L740.0,423.5L736.0,426.8L732.5,428.6L731.9,427.9L733.4,426.5L735.0,424.3L733.5,422.6L734.7,422.0L736.4,421.1L737.9,419.5L739.1,416.8L739.5,415.1L739.0,413.0L739.0,411.9Z"/>
<path fill="#ffffb2" d="M729.1,425.7L728.9,427.7L731.5,427.0L730.1,429.0L727.5,430.7L723.1,433.6L723.2,434.4L718.2,435.8L716.2,437.6L714.0,439.5L710.8,441.1L707.5,441.4L706.6,440.4L704.8,440.4L707.3,438.1L709.8,436.6L710.6,436.3L713.5,434.8L714.7,434.4L718.9,432.2L721.1,431.4L722.1,430.8L724.4,429.0L726.4,427.7L727.6,426.4Z"/>
<path fill="#fed976" d="M351.4,189.8L352.8,188.9L353.7,187.9L353.9,187.4L354.5,186.9L356.8,186.9L357.9,185.6L356.5,186.3L355.0,185.9L352.7,185.8L352.3,185.1L353.5,184.6L354.7,183.9L354.8,182.6L353.5,182.9L354.4,182.1L353.8,181.6L354.4,181.4L355.4,181.6L356.7,181.4L357.2,180.6L356.9,180.4L357.3,179.6L356.5,179.6L355.8,178.6L356.8,177.5L355.9,177.8L355.0,177.9L353.4,178.3L352.9,177.4L353.9,176.3L353.6,175.1L352.8,176.2L351.7,176.7L352.1,175.0L352.3,174.0L351.0,173.2L351.8,172.5L352.0,171.8L351.9,170.4L352.8,169.6L353.5,168.6L356.3,168.6L357.1,168.5L357.0,169.0L356.0,169.8L355.3,170.4L354.9,171.3L356.6,170.8L359.0,170.8L359.4,171.3L358.9,172.1L358.1,173.2L357.8,174.2L356.3,175.0L358.0,175.0L359.0,175.6L359.7,176.7L360.1,177.4L360.5,178.2L361.6,178.6L362.6,179.6L363.0,180.9L363.5,182.0L363.2,182.6L363.8,182.5L365.3,182.5L366.2,183.8L365.5,185.0L365.1,185.4L364.2,186.1L365.7,186.4L365.5,187.1L364.7,187.6L363.3,188.0L362.5,187.8L361.2,188.1L360.6,187.9L359.0,188.1L357.9,188.6L356.9,188.1L356.0,188.4L355.5,189.4L354.5,189.0L352.4,190.0Z"/>
<path fill="#ffffb2" d="M322.5,156.3L323.9,155.5L322.3,154.7L320.7,153.9L322.5,153.2L324.4,152.5L322.3,152.4L320.1,152.4L321.6,151.0L324.0,150.2L325.6,151.5L325.8,152.5L327.4,152.2L328.0,151.0L328.9,151.8L330.1,150.8L331.1,151.9L331.8,150.9L332.8,151.1L334.9,150.1L337.6,150.4L337.1,151.8L339.0,152.8L337.6,154.3L335.9,155.3L332.6,156.3L330.8,156.8L328.9,157.2L326.7,156.9L324.8,156.2Z"/>
<path fill="#ffffb2" d="M281.6,165.7L280.1,164.7L278.6,163.6L275.8,162.0L273.0,160.5L272.2,157.9L271.4,155.4L270.5,152.6L270.6,149.1L273.8,145.2L277.5,143.9L274.9,142.8L272.3,141.7L273.3,140.4L273.0,138.0L272.8,136.3L272.6,133.2L272.3,131.2L271.2,130.6L270.1,130.0L267.9,129.8L265.8,129.6L263.4,129.7L261.0,129.8L259.5,129.2L258.1,128.7L257.1,128.0L256.1,127.4L257.4,126.8L256.1,126.2L254.8,125.6L257.3,125.0L259.8,124.4L262.3,123.8L264.6,123.4L266.9,123.0L269.1,122.7L269.1,121.1L271.0,120.6L272.8,120.1L274.9,119.7L277.1,119.3L279.8,118.9L282.6,118.5L284.9,118.4L287.3,118.4L289.6,118.3L291.8,118.2L293.9,118.1L296.1,118.0L298.2,117.9L300.7,117.6L303.2,117.2L305.7,116.9L308.1,116.8L310.4,116.7L312.8,116.6L315.2,116.4L317.6,116.3L319.7,116.4L321.8,116.6L324.0,116.7L326.1,116.8L328.0,117.2L329.9,117.7L331.8,118.2L333.7,118.8L332.1,119.4L334.4,119.5L336.7,119.6L339.0,119.7L341.3,119.8L343.6,119.8L346.0,119.9L343.7,120.5L341.5,121.1L339.2,121.8L337.6,122.4L336.0,123.0L334.9,124.9L334.5,128.2L332.0,130.8L331.8,132.8L328.7,134.9L327.4,137.0L327.0,139.1L326.5,141.2L325.9,142.0L323.6,143.2L321.3,144.4L318.9,145.6L316.6,145.9L314.3,146.2L312.0,146.5L310.3,146.5L308.6,146.5L306.0,148.2L303.4,149.9L300.3,151.0L297.3,152.2L295.0,152.8L292.7,153.5L291.1,155.8L288.0,158.2L286.0,160.5L284.0,163.8Z"/>
<path fill="#ffffb2" d="M243.8,160.7L241.6,160.1L239.5,159.5L237.3,158.9L235.6,157.7L234.0,156.5L232.7,155.7L231.4,154.9L229.5,155.1L227.6,155.4L225.5,154.4L226.7,152.8L230.2,152.6L233.8,152.4L236.0,150.1L239.0,147.4L238.0,145.6L236.6,145.1L235.3,144.5L233.8,143.6L232.3,142.8L230.3,142.6L228.3,142.5L225.3,142.4L222.2,142.3L220.0,141.8L217.8,141.2L216.6,139.7L218.2,137.0L221.1,134.2L223.6,134.2L226.1,134.2L228.6,134.2L230.6,134.3L232.7,134.4L234.7,134.4L237.0,134.5L239.3,134.7L240.8,136.1L241.4,137.3L242.0,138.4L244.4,139.1L246.8,139.7L248.3,140.5L249.9,141.2L250.2,143.4L250.0,146.7L251.8,147.2L253.7,147.6L255.4,148.8L257.2,149.9L254.8,152.2L252.9,151.7L250.9,151.2L248.6,150.8L246.2,150.3L246.7,151.9L247.1,153.5L248.0,155.8L247.6,157.7L244.7,158.2L242.9,157.3L241.2,156.4L242.0,157.8L242.8,159.1Z"/>
<path fill="#ffffb2" d="M171.3,145.6L173.9,145.5L176.5,145.5L179.1,145.4L181.6,145.1L184.2,144.8L186.7,144.5L189.1,144.6L191.5,144.7L195.3,142.3L197.6,139.1L197.5,136.7L196.8,135.9L196.1,135.1L193.9,135.3L191.6,135.5L188.8,137.4L187.9,136.7L187.0,136.1L184.8,135.8L182.7,135.6L180.6,135.3L178.2,136.0L175.8,136.7L172.9,137.7L169.9,138.7L171.1,139.5L168.6,140.6L170.9,140.9L173.3,141.2L175.1,141.4L176.9,141.7L174.0,142.0L171.0,142.2L168.1,142.5L168.0,143.4L170.3,144.1Z"/>
<path fill="#ffffb2" d="M162.1,139.9L164.9,139.4L167.7,138.9L172.6,136.7L175.9,135.7L179.1,134.7L178.2,133.4L176.4,133.2L174.6,133.0L172.7,132.8L169.6,133.4L166.4,134.0L162.7,136.3L159.8,138.0L161.0,139.1Z"/>
<path fill="#ffffb2" d="M208.2,156.8L210.1,157.7L212.6,157.3L215.0,157.0L217.7,156.7L220.4,156.4L219.2,154.7L217.6,153.8L216.0,152.8L214.4,151.5L210.8,152.8L210.8,155.4Z"/>
<path fill="#ffffb2" d="M200.6,139.3L203.5,138.7L206.4,138.0L208.6,135.3L207.7,134.5L206.9,133.8L204.4,134.3L201.8,134.9L198.5,136.5L199.0,138.4Z"/>
<path fill="#ffffb2" d="M209.0,137.8L211.5,137.9L214.0,138.0L218.6,135.9L220.1,134.0L217.9,133.8L215.8,133.5L213.8,134.0L211.8,134.4L209.6,136.3Z"/>
<path fill="#ffffb2" d="M238.0,132.4L235.6,132.5L233.1,132.6L230.6,132.8L228.2,132.9L225.4,132.8L222.7,132.6L220.0,132.5L220.7,130.6L218.6,129.9L216.5,129.2L219.0,128.7L221.4,128.2L223.2,129.0L225.1,129.8L227.4,130.0L229.8,130.2L232.1,130.4L234.6,130.4L237.1,130.5L239.6,130.6L239.3,131.8Z"/>
<path fill="#ffffb2" d="M240.7,129.4L242.9,128.7L245.1,128.0L247.0,126.2L249.8,125.6L252.5,124.9L253.6,124.5L256.1,123.8L258.7,123.0L261.4,122.4L264.2,121.8L266.8,121.3L269.1,120.7L271.4,120.1L274.1,119.4L276.8,118.8L277.1,118.0L274.6,117.8L272.2,117.6L269.8,117.3L267.4,117.1L265.0,117.1L262.6,117.2L260.1,117.2L257.7,117.2L254.9,117.5L252.1,117.8L249.3,118.0L246.9,118.3L244.5,118.5L242.1,118.8L239.9,119.1L237.7,119.3L235.5,119.6L236.7,120.1L237.9,120.7L239.1,121.3L239.5,122.1L239.4,123.4L236.4,124.2L233.3,124.9L232.8,126.1L229.1,127.4L230.5,128.2L232.0,129.0L234.2,129.1L236.3,129.2L238.5,129.3Z"/>
<path fill="#ffffb2" d="M232.9,125.3L231.2,125.1L229.4,124.9L227.7,124.7L226.2,123.9L224.7,123.0L228.9,120.9L231.3,120.4L233.7,119.9L235.0,120.4L236.3,120.8L237.7,121.3L237.0,123.0Z"/>
<path fill="#ffffb2" d="M197.9,132.0L195.5,132.2L193.1,132.5L190.7,132.8L187.9,132.9L185.0,133.0L183.4,132.1L181.9,131.2L184.3,129.4L186.4,129.3L188.5,129.2L190.6,129.2L193.8,128.8L197.0,128.4L198.8,129.1L200.6,129.8L200.1,130.8Z"/>
<path fill="#ffffb2" d="M207.5,131.8L210.0,131.3L212.5,130.8L213.4,128.6L210.6,128.7L207.9,128.8L204.5,130.6L206.0,131.2Z"/>
<path fill="#ffffb2" d="M183.0,129.8L185.2,129.3L187.4,128.8L186.7,127.9L186.1,127.0L183.0,127.6L179.9,128.2L176.7,128.8L177.3,130.0L180.1,129.9Z"/>
<path fill="#ffffb2" d="M198.4,145.5L200.5,145.0L202.6,144.5L203.3,142.8L201.3,142.6L199.3,142.5L195.9,144.5L197.1,145.0Z"/>
<path fill="#ffffb2" d="M242.1,196.0L243.5,193.7L246.3,191.2L249.2,188.1L252.7,185.9L253.1,185.9L249.7,189.9L252.2,191.4L255.1,191.8L255.5,193.2L255.5,196.3L254.1,198.4L252.9,198.3L252.4,196.5L248.6,197.8L249.8,196.3L247.8,196.1L245.8,196.0Z"/>
<path fill="#ffffb2" d="M113.0,194.0L110.3,193.2L109.3,191.7L107.1,189.7L107.1,187.9L109.6,188.4L112.1,189.9L113.1,191.9Z"/>
<path fill="#ffffb2" d="M104.1,184.9L103.7,181.9L104.4,179.6L107.0,179.9L104.7,182.4Z"/>
<path fill="#ffffb2" d="M233.5,190.2L235.9,191.2L238.3,192.2L236.9,192.2L233.8,190.7Z"/>
<path fill="#fed976" d="M76.1,171.0L75.6,170.1L70.8,171.5L70.6,173.0L73.4,172.5Z"/>
<path fill="#fed976" d="M58.3,164.5L55.1,164.8L55.8,165.7Z"/>
<path fill="#fed976" d="M60.3,157.3L58.7,157.2L57.1,157.0L60.2,156.5Z"/>
<path fill="#fed976" d="M8.9,270.2L11.7,269.1L11.1,267.8L9.6,267.1L9.0,268.5Z"/>
<path fill="#fed976" d="M8.2,265.4L9.7,265.9L8.7,266.3Z"/>
<path fill="#fed976" d="M5.0,263.8L6.2,264.4L5.8,263.3Z"/>
<path fill="#fed976" d="M2.0,262.4L3.0,262.8L3.0,261.9Z"/>
<path fill="#fd8d3c" d="M60.8,144.6L61.6,145.1L62.5,145.6L63.3,146.3L64.0,147.1L65.3,148.3L63.4,149.0L66.2,148.9L68.3,149.2L68.8,150.9L65.0,152.2L61.6,153.1L58.9,154.9L57.1,154.9L55.4,154.0L55.6,152.6L53.6,152.5L51.6,152.4L53.4,150.6L50.8,151.7L47.4,153.4L54.1,148.9Z"/>
<path fill="#fd8d3c" d="M69.8,139.1L71.3,139.4L72.8,139.7L71.9,140.2L69.8,140.3L67.6,140.4Z"/>
<path fill="#fd8d3c" d="M655.8,139.1L654.8,139.7L656.3,140.4L658.0,140.4Z"/>
<path fill="#feb24c" d="M228.1,456.7L224.9,457.1L225.3,458.9L224.9,460.1L222.4,459.9L218.5,458.1L216.3,457.1L218.9,459.9L221.4,461.0L223.9,462.1L226.2,463.0L228.5,463.8L230.5,464.1L232.6,464.3L234.0,463.3L230.6,462.5L229.3,459.6Z"/>
<path fill="#feb24c" d="M228.1,456.7L229.3,459.6L230.5,462.3L232.6,462.5L234.7,462.7L237.0,461.7L234.0,461.1L231.6,459.9L229.2,457.6Z"/>
<path fill="#feb24c" d="M170.9,262.9L173.4,260.7L175.3,259.9L177.1,259.5L178.9,259.8L179.9,259.4L182.5,260.2L183.4,261.2L186.1,261.8L188.3,263.6L190.9,264.8L191.5,265.8L193.3,266.1L194.8,267.1L192.5,268.0L190.9,267.8L186.5,268.2L188.2,266.8L187.9,266.2L186.2,265.9L184.6,263.6L182.1,263.2L181.1,262.4L179.5,262.0L177.9,262.0L177.2,260.8L176.1,260.8L174.1,261.9L171.9,263.2Z"/>
<path fill="#feb24c" d="M184.7,272.1L185.8,271.7L188.0,271.9L189.6,272.6L189.3,273.2L187.2,273.6L185.4,273.0L184.7,272.5Z"/>
<path fill="#fed976" d="M210.0,273.0L210.2,271.7L212.8,271.8L213.7,272.3L212.7,273.1L210.6,273.1Z"/>
<path fill="#ffffb2" d="M187.1,254.4L188.0,254.2L188.1,256.5L187.4,256.8L186.6,255.7Z"/>
<path fill="#ffffb2" d="M188.9,249.7L190.3,250.8L190.3,252.1L189.7,251.8L189.3,250.5Z"/>
<path fill="#ffffb2" d="M186.3,250.3L188.4,250.1L188.6,250.5L186.5,250.8Z"/>
<path fill="#ffffb2" d="M196.2,264.9L197.5,264.6L197.4,265.3L196.3,265.3Z"/>
<path fill="#ffffb2" d="M220.5,293.7L222.7,293.5L223.0,291.8L221.3,292.1L221.6,293.1Z"/>
<path fill="#f03b20" d="M389.6,221.3L389.6,220.8L390.2,220.4L391.4,220.4L392.9,220.7L395.5,220.1L396.3,220.1L395.7,221.2L395.3,222.1L395.8,223.2L395.5,224.2L393.5,223.2L392.0,222.7L390.9,222.1Z"/>
<path fill="#f03b20" d="M381.3,218.5L382.2,217.6L383.2,217.8L383.4,215.7L383.3,214.8L383.6,214.1L383.0,213.1L382.8,212.6L382.2,212.3L381.2,213.2L380.6,213.4L380.2,213.1L380.1,214.1L380.7,214.8L381.0,215.9L380.7,217.0L380.6,217.8Z"/>
<path fill="#fed976" d="M382.5,207.8L382.6,208.6L382.9,210.1L382.4,211.4L382.2,212.0L381.4,211.5L381.0,210.6L380.8,209.5L381.2,208.9L382.3,208.6Z"/>
<path fill="#fed976" d="M367.8,216.6L369.4,215.7L370.1,216.2L369.4,217.4L368.6,217.0Z"/>
<path fill="#f03b20" d="M413.9,227.1L415.1,227.0L416.0,227.5L417.4,227.7L418.7,227.8L419.9,227.8L419.9,228.4L417.2,228.8L415.0,228.1L414.0,227.9Z"/>
<path fill="#feb24c" d="M433.0,228.3L434.4,227.5L435.1,227.7L437.8,226.8L436.6,228.3L436.9,228.7L436.0,228.8L434.6,229.7L433.3,229.2Z"/>
<path fill="#f03b20" d="M412.0,218.3L412.8,218.2L414.6,219.1L415.6,220.8L414.7,220.5L413.3,219.3Z"/>
<path fill="#f03b20" d="M422.8,225.6L423.8,224.8L423.6,225.7L423.0,226.2Z"/>
<path fill="#f03b20" d="M418.0,217.8L419.1,217.2L419.6,218.0L418.6,218.2Z"/>
<path fill="#fed976" d="M383.9,175.7L385.2,175.0L386.3,174.7L386.9,174.8L386.9,175.8L386.2,176.3L386.7,176.8L386.9,177.4L385.7,177.4L384.2,176.7Z"/>
<path fill="#fed976" d="M381.5,176.2L382.2,175.9L383.2,176.3L383.6,176.7L383.2,177.3L382.5,177.2L381.8,176.8Z"/>
<path fill="#fed976" d="M384.0,177.8L385.7,177.7L385.7,178.3L384.0,178.2Z"/>
<path fill="#ffffb2" d="M397.2,172.5L397.3,170.9L398.1,170.2L398.9,170.2L398.3,171.5L397.7,172.6Z"/>
<path fill="#ffffb2" d="M394.1,174.5L394.3,172.8L395.1,171.7L394.9,173.0Z"/>
<path fill="#ffffb2" d="M403.7,169.4L404.2,168.6L405.7,168.6L406.4,169.0L405.3,169.5L404.1,170.2Z"/>
<path fill="#ffffb2" d="M403.9,167.9L404.8,167.4L405.7,167.9L405.0,168.4Z"/>
<path fill="#ffffb2" d="M384.7,147.1L387.3,145.8L388.9,143.9L389.7,143.9L390.2,144.7L389.0,145.8L387.9,146.4Z"/>
<path fill="#ffffb2" d="M388.2,128.8L385.9,127.8L383.7,126.8L382.8,125.5L380.8,124.8L378.9,124.2L378.2,122.9L380.6,122.6L382.9,122.4L384.5,122.2L386.0,122.0L388.8,122.9L390.5,124.0L392.4,124.3L394.4,124.7L392.6,125.3L390.8,125.9L390.5,126.8L388.5,128.0Z"/>
<path fill="#ffffb2" d="M388.6,122.3L390.0,121.9L391.3,121.4L393.2,121.5L395.1,121.5L397.0,121.6L399.3,121.9L401.5,122.1L401.2,123.2L399.1,123.4L397.0,123.6L394.7,123.4L392.5,123.2L390.6,122.8Z"/>
<path fill="#ffffb2" d="M394.7,126.1L396.7,126.1L398.8,126.1L398.8,127.2L397.3,127.2L395.8,127.2Z"/>
<path fill="#fd8d3c" d="M457.4,141.0L455.3,140.9L453.2,140.8L450.5,140.4L448.5,139.5L446.6,138.7L446.7,137.6L447.2,135.5L448.4,134.8L449.5,134.0L449.8,131.8L451.2,131.0L452.6,130.2L454.6,129.7L456.5,129.2L458.3,128.9L460.2,128.6L462.0,128.4L464.4,128.1L466.7,127.9L466.4,129.2L464.3,129.9L462.1,130.6L459.9,131.3L457.7,132.0L456.6,132.7L455.5,133.4L454.5,134.3L453.4,135.3L454.4,137.0L453.6,138.4L453.6,139.9L455.5,140.5Z"/>
<path fill="#fd8d3c" d="M428.2,121.3L430.1,120.9L432.0,120.6L434.5,121.1L433.0,121.5L431.5,121.9L429.8,121.6Z"/>
<path fill="#fd8d3c" d="M501.4,124.0L500.9,121.9L503.5,122.0L506.2,122.1L509.4,123.4L508.4,124.3L506.6,124.3L504.8,124.3L503.1,124.2Z"/>
<path fill="#fd8d3c" d="M510.4,125.3L512.0,124.5L513.5,123.8L517.5,125.1L516.3,125.6L515.1,126.1L512.7,125.7Z"/>
<path fill="#fd8d3c" d="M497.1,121.8L497.1,120.1L499.4,120.5L501.7,120.9L500.8,121.3L500.0,121.8L498.5,121.8Z"/>
<path fill="#fd8d3c" d="M576.4,131.8L574.5,129.6L577.3,129.7L580.1,129.8L583.3,130.3L586.4,130.8L585.8,131.4L585.2,132.0L583.2,132.2L581.2,132.4L578.8,132.1Z"/>
<path fill="#fd8d3c" d="M590.1,131.2L593.0,131.3L595.9,131.4L595.2,132.4L592.7,131.8Z"/>
<path fill="#fd8d3c" d="M585.1,135.1L587.6,134.9L590.0,134.7L588.9,135.5L587.0,135.3Z"/>
<path fill="#fd8d3c" d="M638.9,178.9L642.6,181.6L645.6,184.9L648.2,187.4L650.8,189.9L654.5,192.4L655.2,193.3L650.9,191.9L654.3,196.8L656.5,198.0L657.4,200.0L655.0,198.6L654.9,200.3L652.6,197.5L649.7,192.9L645.9,188.6L642.4,184.9L640.0,181.6Z"/>
<path fill="#fd8d3c" d="M655.4,201.4L660.4,204.3L663.0,205.2L664.5,204.3L667.3,206.9L665.0,207.9L664.3,210.5L659.8,208.8L659.0,209.6L657.4,209.1L659.8,211.0L658.6,211.9L656.6,209.9L655.9,206.9L658.1,207.3L657.6,205.4L655.8,202.6Z"/>
<path fill="#fd8d3c" d="M660.1,211.7L661.4,211.9L662.9,214.3L665.4,216.6L666.3,220.0L665.2,220.2L666.8,223.4L668.3,226.8L667.2,228.8L665.4,227.8L665.3,229.6L663.9,229.6L661.3,229.6L661.4,230.4L659.9,232.6L657.6,230.7L657.5,229.5L654.6,229.9L651.6,230.4L649.8,231.2L648.7,231.3L649.3,230.0L650.3,228.8L650.8,227.4L654.0,227.1L657.3,227.1L657.8,226.8L657.8,223.6L657.2,222.6L658.3,222.1L658.5,223.9L660.6,222.8L661.3,220.9L661.7,218.4L660.0,215.8L660.2,215.0L659.3,212.3L660.9,213.4Z"/>
<path fill="#fd8d3c" d="M651.8,232.9L652.8,231.3L653.1,230.9L655.1,230.3L656.6,230.7L656.7,233.1L655.0,232.5L654.7,234.6L653.1,233.3Z"/>
<path fill="#fd8d3c" d="M648.9,231.5L651.0,232.2L652.1,233.9L652.1,236.7L652.5,238.1L651.3,239.0L650.1,238.4L649.4,236.8L649.0,235.6L647.6,234.6L646.3,232.9L647.1,232.5L648.0,232.1Z"/>
<path fill="#feb24c" d="M635.5,253.9L636.7,254.7L636.5,257.3L636.1,260.6L635.7,262.8L634.0,261.0L633.3,259.7L633.6,256.8L634.3,255.1Z"/>
<path fill="#bd0026" d="M612.7,267.6L614.3,267.9L614.5,268.7L613.8,270.9L611.7,272.5L609.8,271.7L609.3,269.6L610.3,268.0Z"/>
<path fill="#fd8d3c" d="M546.6,294.4L547.1,294.3L549.5,297.7L550.8,299.9L551.2,301.7L549.6,304.1L548.4,304.5L547.5,304.2L546.6,302.0L546.2,299.1L546.5,296.6Z"/>
<path fill="#fed976" d="M636.8,271.7L639.3,272.1L640.4,271.7L641.8,275.3L640.3,278.9L640.8,281.5L642.3,283.2L644.0,283.2L646.2,283.7L646.1,285.7L647.1,287.2L645.9,286.3L643.5,285.7L641.0,283.7L639.7,284.1L638.6,283.3L638.1,282.3L637.4,281.3L636.4,278.7L635.9,277.2L637.2,278.1L637.0,276.6L636.7,274.2Z"/>
<path fill="#fed976" d="M638.3,284.7L640.2,285.0L641.3,287.1L640.6,288.1L639.4,286.8Z"/>
<path fill="#fed976" d="M632.3,298.1L634.0,295.7L636.0,292.8L636.9,290.4L636.7,292.3L635.6,294.5L633.6,297.0Z"/>
<path fill="#fed976" d="M642.4,288.9L645.2,290.0L644.1,292.1L642.8,292.7L642.7,291.0Z"/>
<path fill="#fed976" d="M644.0,294.0L645.1,291.4L646.3,291.7L646.1,292.8L646.1,295.7L645.3,296.4Z"/>
<path fill="#fed976" d="M646.3,295.2L646.9,292.8L647.4,290.6L647.6,293.1Z"/>
<path fill="#fed976" d="M648.0,290.1L649.6,290.6L650.3,293.6L649.3,293.5L648.3,291.5Z"/>
<path fill="#fed976" d="M647.5,287.2L649.8,287.1L650.4,288.1L651.2,291.3L649.5,290.5L649.1,290.0Z"/>
<path fill="#fed976" d="M647.2,294.4L648.2,293.5L649.0,294.5L647.7,294.9Z"/>
<path fill="#fed976" d="M651.1,294.4L653.4,298.6L653.3,302.0L653.3,303.3L652.0,301.7L651.5,303.5L652.3,305.4L651.0,304.2L648.8,304.1L648.6,301.2L646.8,299.6L643.7,302.0L643.7,299.9L644.8,298.7L646.4,297.5L647.6,298.6L648.4,298.5L649.4,297.8L649.7,296.5L651.3,296.5Z"/>
<path fill="#feb24c" d="M582.3,305.5L584.0,306.2L586.6,306.4L588.7,308.2L590.3,310.1L593.2,312.4L595.3,314.5L596.8,315.6L598.8,317.4L600.7,318.7L602.3,320.0L601.6,321.3L603.7,322.6L604.8,326.0L606.4,326.3L607.3,327.8L606.9,330.4L606.6,335.1L605.4,334.4L603.7,335.4L602.2,333.6L600.4,331.8L598.5,329.9L595.8,326.5L594.3,322.5L592.1,319.5L590.6,315.4L588.4,314.0L586.4,311.6L584.3,309.2L582.6,307.2Z"/>
<path fill="#feb24c" d="M605.0,337.8L606.9,335.4L608.9,335.9L612.7,337.5L616.9,338.2L618.3,336.7L619.2,337.5L620.7,338.0L622.3,338.8L623.9,340.1L625.1,340.1L625.9,341.4L625.8,342.9L622.7,341.7L619.2,341.7L616.5,340.9L613.6,340.1L610.1,340.1L607.6,339.2L607.9,338.3Z"/>
<path fill="#feb24c" d="M622.2,338.4L625.0,338.0L625.4,338.3L624.0,338.9Z"/>
<path fill="#feb24c" d="M605.5,324.7L607.6,324.2L608.9,326.8L608.6,328.1L606.8,326.0Z"/>
<path fill="#feb24c" d="M626.0,341.4L627.8,341.0L628.9,341.9L627.6,343.0L626.3,341.9Z"/>
<path fill="#feb24c" d="M629.1,342.9L629.6,341.5L630.5,341.4L631.1,342.3L630.6,343.2Z"/>
<path fill="#feb24c" d="M631.2,342.5L633.0,341.4L634.0,341.2L634.8,341.8L636.5,341.7L636.7,342.6L635.2,343.1L631.7,343.6Z"/>
<path fill="#feb24c" d="M638.2,342.5L639.9,341.5L642.2,342.2L644.5,341.8L645.7,341.7L645.1,342.6L642.3,343.2L638.7,343.1Z"/>
<path fill="#feb24c" d="M636.1,344.8L638.3,344.3L640.4,346.1L638.8,346.9L636.6,345.6Z"/>
<path fill="#feb24c" d="M639.8,318.9L640.1,322.1L641.4,323.7L643.4,322.2L646.1,322.5L647.4,322.6L644.9,324.2L643.5,325.0L642.7,325.2L644.6,327.8L644.8,329.1L645.4,330.3L646.1,331.5L644.4,332.7L643.0,332.5L643.1,330.6L642.0,326.9L640.0,327.8L640.4,330.4L640.3,331.9L640.2,334.6L638.1,334.6L637.9,333.5L638.5,330.4L637.1,329.3L637.0,326.9L638.0,323.1L639.3,321.8L639.2,319.5ZM640.0,318.7L641.5,317.3L641.7,316.5L643.1,317.3L645.4,317.4L646.4,317.6L647.7,317.6L649.6,316.9L650.8,316.1L651.5,316.0L649.6,319.0L648.9,319.1L646.7,318.7L644.3,318.8L642.0,318.8Z"/>
<path fill="#feb24c" d="M657.0,317.4L657.8,314.4L658.3,316.6L659.7,316.1L659.7,317.4L658.6,318.2L660.2,319.2L658.6,319.2L657.9,320.8L659.0,322.2L657.9,322.4L657.2,320.0Z"/>
<path fill="#feb24c" d="M657.9,328.4L660.1,327.4L662.6,327.7L664.5,328.9L663.2,329.8L660.3,328.9L658.2,329.0Z"/>
<path fill="#feb24c" d="M653.5,328.2L655.4,328.1L656.1,328.9L654.9,330.1L653.5,329.4Z"/>
<path fill="#ffffb2" d="M704.4,334.8L707.2,334.4L708.7,334.5L711.9,332.9L712.5,331.0L713.6,331.0L714.0,332.3L713.0,333.1L712.7,333.8L710.5,335.7L708.9,336.5L705.9,336.1L704.6,335.5Z"/>
<path fill="#ffffb2" d="M710.6,326.7L713.3,328.6L715.7,331.5L715.1,332.7L714.6,330.7L712.2,328.4Z"/>
<path fill="#ffffb2" d="M719.1,334.1L720.7,335.4L721.8,337.8L720.1,337.2L719.3,335.4Z"/>
<path fill="#ffffb2" d="M729.6,344.2L731.4,344.6L732.3,345.7L730.3,345.7Z"/>
<path fill="#ffffb2" d="M732.1,341.8L732.9,342.7L733.6,344.8L732.8,344.3Z"/>
<path fill="#ffffb2" d="M727.5,339.7L730.3,341.8L730.0,342.3L727.6,340.6Z"/>
<path fill="#ffffb2" d="M723.0,337.4L725.2,339.1L724.7,339.5L723.2,338.3Z"/>
<path fill="#ffffb2" d="M733.2,346.8L735.3,347.9L734.6,348.3L733.3,347.6Z"/>
<path fill="#ffffb2" d="M724.4,340.9L725.9,341.7L725.6,342.5L724.5,341.7Z"/>
<path fill="#ffffb2" d="M743.5,358.3L744.5,358.9L744.4,360.7L743.5,360.9L743.1,359.7Z"/>
<path fill="#ffffb2" d="M744.3,361.5L745.4,362.6L744.8,363.2L744.3,362.3Z"/>
<path fill="#ffffb2" d="M745.4,366.0L746.3,366.1L745.9,366.6Z"/>
<path fill="url(#hatch)" stroke="#c0c0c0" d="M734.3,372.4L736.3,373.0L737.4,374.9L739.7,377.5L739.7,378.4L738.3,378.2L736.3,376.4L734.5,373.9Z"/>
<path fill="#feb24c" d="M766.2,366.4L767.8,365.3L769.2,366.0L769.0,367.3L767.2,367.7L765.9,367.3Z"/>
<path fill="#feb24c" d="M769.5,364.0L771.6,362.8L773.2,362.3L772.6,363.4L770.6,364.1Z"/>
<path fill="#ffffb2" d="M475.7,351.2L475.8,352.1L477.2,354.9L477.5,357.2L477.7,358.9L477.9,361.5L476.4,360.4L476.5,362.3L475.8,364.9L475.1,367.4L473.4,372.0L472.1,375.5L470.7,379.6L469.5,382.5L468.3,385.4L464.0,386.9L461.6,385.3L461.1,381.0L460.7,376.8L463.0,373.0L463.5,369.6L462.9,367.1L464.2,362.3L466.1,361.8L468.5,361.0L470.6,359.2L471.9,358.3L472.6,355.3L473.3,355.0L474.7,352.5Z"/>
<path fill="#ffffb2" d="M484.9,287.2L486.5,286.8L487.8,287.2L486.3,287.9Z"/>
<path fill="#f03b20" d="M492.8,372.2L493.8,372.5L493.4,373.5L492.7,373.3Z"/>
</g>
<g id="legend">
<rect x="215.6" y="537.6" width="47.6" height="10.8" fill="url(#hatch)" stroke="#bbb" stroke-width="0.6"/>
<text x="239.2" y="529.8" text-anchor="middle" letter-spacing="0.1">No data</text>
<line x1="239.3" y1="534.3" x2="239.3" y2="537.5" stroke="#bbb" stroke-width="0.6"/>
<g stroke="#bbb" stroke-width="0.5">
<rect x="283.3" y="537.6" width="58.45" height="10.8" fill="#ffffb2"/>
<rect x="341.75" y="537.6" width="58.45" height="10.8" fill="#fed976"/>
<rect x="400.2" y="537.6" width="58.45" height="10.8" fill="#feb24c"/>
<rect x="458.65" y="537.6" width="58.45" height="10.8" fill="#fd8d3c"/>
<rect x="517.1" y="537.6" width="58.45" height="10.8" fill="#f03b20"/>
<rect x="575.55" y="537.6" width="58.45" height="10.8" fill="#bd0026"/>
</g>
<g stroke="#9a9a9a" stroke-width="0.5">
<line x1="283.3" y1="534.2" x2="283.3" y2="548.4"/><line x1="341.75" y1="534.2" x2="341.75" y2="548.4"/><line x1="400.2" y1="534.2" x2="400.2" y2="548.4"/><line x1="458.65" y1="534.2" x2="458.65" y2="548.4"/><line x1="517.1" y1="534.2" x2="517.1" y2="548.4"/><line x1="575.55" y1="534.2" x2="575.55" y2="548.4"/><line x1="634.0" y1="534.2" x2="634.0" y2="548.4"/>
</g>
<g text-anchor="middle">
<text x="283.3" y="529.8">0</text><text x="341.75" y="529.8">20</text><text x="400.2" y="529.8">40</text><text x="458.65" y="529.8">60</text><text x="517.1" y="529.8">80</text><text x="575.8" y="529.8">100</text><text x="634.2" y="529.8">300</text>
</g>
</g>

</svg>
</body></html>
